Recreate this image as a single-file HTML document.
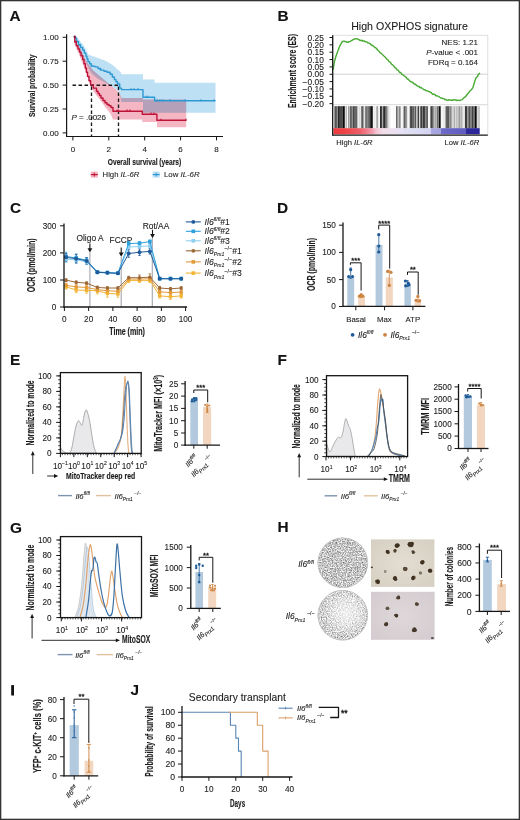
<!DOCTYPE html>
<html><head><meta charset="utf-8"><style>
html,body{margin:0;padding:0;background:#fff;width:520px;height:820px;overflow:hidden}
svg{display:block;filter:blur(0.3px);font-family:"Liberation Sans", sans-serif}
</style></head><body>
<svg width="520" height="820" viewBox="0 0 520 820" font-family='"Liberation Sans", sans-serif'>
<rect x="0" y="0" width="520" height="820" fill="#fff"/>
<text x="9.4" y="20.6" font-size="15.4" text-anchor="start" fill="#111" font-weight="bold" font-style="normal" stroke="#111" stroke-width="0.1" >A</text>
<polygon points="74.5,36.5 76.3,36.2 80,41 83.8,45.8 86,50 88,54.2 92,56 96.5,57.4 100.7,59 104.9,60.6 108.6,62.5 112.3,64.8 116.5,68.5 120.8,72.2 121.5,74.2 143,74.2 143,79.6 154.6,79.6 154.6,82.7 215.5,82.7 215.5,112.7 143,112.7 143,101.9 121.5,101.9 119.8,93 116.6,89.5 110.2,85.5 103.9,82 97.5,78.5 91.2,73 86.9,64.5 83.5,58.5 80.6,53.2 77.5,46 74.8,39.4" fill="#bde0f4" />
<polygon points="74.5,38 74.8,40.5 77.5,44.5 80.6,48.9 84.8,58.5 89,65 93.3,70.5 97.5,74 103.9,79.5 110.2,85 116.6,90 120,94 121.5,98 143,98 143,99.6 186.2,99.6 186.2,127.3 157,127.3 157,122 142.3,122 142.3,119.6 113,119.6 110.4,113.4 106,108 101,101.3 97,96 94,92 91.2,88.1 89,81.7 86.9,74.3 82.7,63.7 78.5,53.2 74.2,43.6" fill="#f3b6c2" style="mix-blend-mode:multiply"/>
<line x1="72.5" y1="85.2" x2="118.5" y2="85.2" stroke="#1a1a1a" stroke-width="1.35" stroke-dasharray="3.6,2.4"/>
<line x1="91.5" y1="86.4" x2="91.5" y2="136.5" stroke="#1a1a1a" stroke-width="1.35" stroke-dasharray="3.6,2.4"/>
<line x1="118.5" y1="86.4" x2="118.5" y2="136.5" stroke="#1a1a1a" stroke-width="1.35" stroke-dasharray="3.6,2.4"/>
<polyline points="74.6,37 74.8,37 74.8,38.3 76.5,38.3 76.5,41.5 78.5,41.5 78.5,44.7 80.5,44.7 80.5,47.5 82.7,47.5 82.7,50 84.3,50 84.3,53 85.9,53 85.9,56.3 87,56.3 87,59 88,59 88,61.6 89.6,61.6 89.6,63.8 91.2,63.8 91.2,65.9 93.3,65.9 93.3,66.4 95.4,66.4 95.4,66.9 98,66.9 98,68.5 100.7,68.5 100.7,70.1 104,70.1 104,71.2 107,71.2 107,72.2 110.2,72.2 110.2,74.3 112.3,74.3 112.3,77 114.4,77 114.4,79.6 116,79.6 116,81.8 117.6,81.8 117.6,83.9 119.7,83.9 119.7,88.1 121.5,88.1 121.5,89.6 143,89.6 143,97.3 154.6,97.3 154.6,100.8 215.5,100.8" fill="none" stroke="#2e98d3" stroke-width="1.4" stroke-linejoin="round" stroke-linejoin="miter"/>
<polyline points="74.6,37 74.8,37 74.8,41.5 76.3,41.5 76.3,45.8 78,45.8 78,49 79.5,49 79.5,52.1 81,52.1 81,55.8 82.7,55.8 82.7,59.5 84,59.5 84,63.7 85.3,63.7 85.3,68 86.4,68 86.4,72.2 87.5,72.2 87.5,76.4 89,76.4 89,80.7 90.6,80.7 90.6,84.9 93.3,84.9 93.3,88.1 96.5,88.1 96.5,91.3 98,91.3 98,93.5 99.5,93.5 99.5,95.5 101,95.5 101,98 103,98 103,100.5 105,100.5 105,102.7 107,102.7 107,104.5 109,104.5 109,105.8 111,105.8 111,107.5 113,107.5 113,111.2 142.3,111.2 142.3,114.2 156.9,114.2 156.9,120.3 186.2,120.3" fill="none" stroke="#be1238" stroke-width="1.4" stroke-linejoin="round" stroke-linejoin="miter"/>
<line x1="131" y1="88" x2="131" y2="90" stroke="#2e98d3" stroke-width="1" />
<line x1="134" y1="88" x2="134" y2="90" stroke="#2e98d3" stroke-width="1" />
<line x1="138" y1="88" x2="138" y2="90" stroke="#2e98d3" stroke-width="1" />
<line x1="146" y1="95.7" x2="146" y2="97.7" stroke="#2e98d3" stroke-width="1" />
<line x1="148" y1="95.7" x2="148" y2="97.7" stroke="#2e98d3" stroke-width="1" />
<line x1="157" y1="99.2" x2="157" y2="101.2" stroke="#2e98d3" stroke-width="1" />
<line x1="160" y1="99.2" x2="160" y2="101.2" stroke="#2e98d3" stroke-width="1" />
<line x1="163" y1="99.2" x2="163" y2="101.2" stroke="#2e98d3" stroke-width="1" />
<line x1="170" y1="99.2" x2="170" y2="101.2" stroke="#2e98d3" stroke-width="1" />
<line x1="185" y1="99.2" x2="185" y2="101.2" stroke="#2e98d3" stroke-width="1" />
<line x1="201" y1="99.2" x2="201" y2="101.2" stroke="#2e98d3" stroke-width="1" />
<line x1="214" y1="99.2" x2="214" y2="101.2" stroke="#2e98d3" stroke-width="1" />
<line x1="80" y1="43.9" x2="80" y2="45.9" stroke="#2e98d3" stroke-width="1" />
<line x1="92" y1="64.9" x2="92" y2="66.9" stroke="#2e98d3" stroke-width="1" />
<line x1="100" y1="68.4" x2="100" y2="70.4" stroke="#2e98d3" stroke-width="1" />
<line x1="117" y1="109.6" x2="117" y2="111.6" stroke="#be1238" stroke-width="1.1" />
<line x1="118.5" y1="109.6" x2="118.5" y2="111.6" stroke="#be1238" stroke-width="1.1" />
<line x1="127" y1="109.6" x2="127" y2="111.6" stroke="#be1238" stroke-width="1.1" />
<line x1="130" y1="109.6" x2="130" y2="111.6" stroke="#be1238" stroke-width="1.1" />
<line x1="151" y1="112.6" x2="151" y2="114.6" stroke="#be1238" stroke-width="1.1" />
<line x1="154" y1="112.6" x2="154" y2="114.6" stroke="#be1238" stroke-width="1.1" />
<line x1="161" y1="118.7" x2="161" y2="120.7" stroke="#be1238" stroke-width="1.1" />
<line x1="186" y1="118.7" x2="186" y2="120.7" stroke="#be1238" stroke-width="1.1" />
<line x1="75" y1="40.9" x2="75" y2="42.9" stroke="#be1238" stroke-width="1.1" />
<circle cx="74.7" cy="36.8" r="1.2" fill="#7a1a40" />
<line x1="66.6" y1="34.2" x2="66.6" y2="137.1" stroke="#161616" stroke-width="1.2" />
<line x1="66" y1="136.5" x2="223" y2="136.5" stroke="#161616" stroke-width="1.2" />
<line x1="62.6" y1="37.3" x2="66.6" y2="37.3" stroke="#161616" stroke-width="1" />
<text x="58.6" y="40.2" font-size="8" text-anchor="end" fill="#222" font-weight="normal" font-style="normal" stroke="#222" stroke-width="0.1" >1.00</text>
<line x1="62.6" y1="61.2" x2="66.6" y2="61.2" stroke="#161616" stroke-width="1" />
<text x="58.6" y="64.1" font-size="8" text-anchor="end" fill="#222" font-weight="normal" font-style="normal" stroke="#222" stroke-width="0.1" >0.75</text>
<line x1="62.6" y1="85.1" x2="66.6" y2="85.1" stroke="#161616" stroke-width="1" />
<text x="58.6" y="88" font-size="8" text-anchor="end" fill="#222" font-weight="normal" font-style="normal" stroke="#222" stroke-width="0.1" >0.50</text>
<line x1="62.6" y1="109" x2="66.6" y2="109" stroke="#161616" stroke-width="1" />
<text x="58.6" y="111.9" font-size="8" text-anchor="end" fill="#222" font-weight="normal" font-style="normal" stroke="#222" stroke-width="0.1" >0.25</text>
<line x1="62.6" y1="132.9" x2="66.6" y2="132.9" stroke="#161616" stroke-width="1" />
<text x="58.6" y="135.8" font-size="8" text-anchor="end" fill="#222" font-weight="normal" font-style="normal" stroke="#222" stroke-width="0.1" >0.00</text>
<line x1="72.9" y1="136.5" x2="72.9" y2="140.4" stroke="#161616" stroke-width="1" />
<text x="72.9" y="151.9" font-size="8" text-anchor="middle" fill="#222" font-weight="normal" font-style="normal" stroke="#222" stroke-width="0.1" >0</text>
<line x1="108.8" y1="136.5" x2="108.8" y2="140.4" stroke="#161616" stroke-width="1" />
<text x="108.8" y="151.9" font-size="8" text-anchor="middle" fill="#222" font-weight="normal" font-style="normal" stroke="#222" stroke-width="0.1" >2</text>
<line x1="144.7" y1="136.5" x2="144.7" y2="140.4" stroke="#161616" stroke-width="1" />
<text x="144.7" y="151.9" font-size="8" text-anchor="middle" fill="#222" font-weight="normal" font-style="normal" stroke="#222" stroke-width="0.1" >4</text>
<line x1="180.6" y1="136.5" x2="180.6" y2="140.4" stroke="#161616" stroke-width="1" />
<text x="180.6" y="151.9" font-size="8" text-anchor="middle" fill="#222" font-weight="normal" font-style="normal" stroke="#222" stroke-width="0.1" >6</text>
<line x1="216.5" y1="136.5" x2="216.5" y2="140.4" stroke="#161616" stroke-width="1" />
<text x="216.5" y="151.9" font-size="8" text-anchor="middle" fill="#222" font-weight="normal" font-style="normal" stroke="#222" stroke-width="0.1" >8</text>
<text x="144.5" y="164.7" font-size="9.8" text-anchor="middle" fill="#1c1c1c" font-weight="bold" font-style="normal" textLength="73.5" lengthAdjust="spacingAndGlyphs" stroke="#1c1c1c" stroke-width="0.15" >Overall survival (years)</text>
<text x="35.4" y="85.7" font-size="9.8" text-anchor="middle" fill="#1c1c1c" font-weight="bold" font-style="normal" textLength="62.5" lengthAdjust="spacingAndGlyphs" transform="rotate(-90 35.4 85.7)" stroke="#1c1c1c" stroke-width="0.15" >Survival probability</text>
<text x="71.5" y="120" font-size="8" text-anchor="start" fill="#222" font-weight="normal" font-style="normal" stroke="#222" stroke-width="0.1" ><tspan font-style="italic">P</tspan> = .0026</text>
<rect x="90.8" y="171.6" width="7" height="6" fill="#f3b6c2" />
<line x1="90.8" y1="174.6" x2="97.8" y2="174.6" stroke="#be1238" stroke-width="1.2" />
<line x1="94.3" y1="172.6" x2="94.3" y2="176.6" stroke="#be1238" stroke-width="1" />
<text x="102.6" y="177.4" font-size="7.7" text-anchor="start" fill="#222" font-weight="normal" font-style="normal" stroke="#222" stroke-width="0.1" >High <tspan font-style="italic">IL-6R</tspan></text>
<rect x="152.7" y="171.6" width="7" height="6" fill="#bde0f4" />
<line x1="152.7" y1="174.6" x2="159.7" y2="174.6" stroke="#2e98d3" stroke-width="1.2" />
<line x1="156.2" y1="172.6" x2="156.2" y2="176.6" stroke="#2e98d3" stroke-width="1" />
<text x="164" y="177.4" font-size="7.8" text-anchor="start" fill="#222" font-weight="normal" font-style="normal" stroke="#222" stroke-width="0.1" >Low <tspan font-style="italic">IL-6R</tspan></text>
<text x="277.4" y="20.6" font-size="15.4" text-anchor="start" fill="#111" font-weight="bold" font-style="normal" stroke="#111" stroke-width="0.1" >B</text>
<text x="409.5" y="30" font-size="10.6" text-anchor="middle" fill="#1c1c1c" font-weight="normal" font-style="normal" stroke="#1c1c1c" stroke-width="0.1" >High OXPHOS signature</text>
<rect x="332.7" y="35.3" width="155.1" height="69.2" fill="none" stroke="#d8d8d8" stroke-width="0.8"/>
<line x1="332.7" y1="104.9" x2="487.8" y2="104.9" stroke="#e0e0e0" stroke-width="0.6" />
<line x1="487.8" y1="104.5" x2="487.8" y2="135.2" stroke="#d8d8d8" stroke-width="0.8" />
<line x1="332.7" y1="74.2" x2="487.8" y2="74.2" stroke="#c8c8c8" stroke-width="0.8" />
<polyline points="333,70 334.6,60.8 336,56 337.7,51.61 339,47.72 339.9,45.92 340.8,44.2 342.3,41.72 343.8,41.18 345.5,41.58 347,42.27 348,42.3 349,41.63 350.25,41.51 351.5,40.45 352.5,40.12 353.5,39.27 354.75,39.09 356,38.67 357,38.61 358,39.25 358.93,39.57 359.87,40.41 360.8,40.54 361.87,40.29 362.93,41.17 364,40.87 365,41.67 366,41.6 367,41.85 368,43.13 369,43.04 370,43.54 371,44.73 371.9,45.29 372.8,45.41 373.7,46.67 374.6,46.94 375.58,47.96 376.55,48.43 377.52,50 378.5,50.67 379.45,51.94 380.4,52.9 381.35,53.39 382.3,54.48 383.24,55.24 384.18,56.16 385.12,57.03 386.06,58.18 387,59.39 387.9,59.75 388.8,61.26 389.7,61.85 390.6,62.73 391.5,64.09 392.4,64.72 393.3,65.51 394.2,66.6 395.1,67.74 396,68.1 396.96,69.83 397.92,69.87 398.88,71.42 399.84,72.41 400.8,72.57 401.74,74.1 402.68,74.56 403.62,75.59 404.56,75.92 405.5,76.79 406.4,77.63 407.3,79.05 408.2,79.09 409.1,80.31 410,81.19 410.92,81.84 411.84,81.94 412.76,82.59 413.68,83.38 414.6,84.25 415.52,84.23 416.44,85.38 417.36,86.01 418.28,86.64 419.2,86.48 420.16,87.8 421.12,87.53 422.08,88.26 423.04,89 424,89.78 424.9,89.68 425.8,90.62 426.7,90.7 427.6,90.91 428.5,91.34 429.4,91.71 430.3,92.12 431.2,92.68 432.1,93.67 433,94.45 433.94,94.14 434.88,94.47 435.82,95.76 436.76,95.79 437.7,96.12 438.77,96.46 439.85,97.28 440.93,97.99 442,98.16 443,98.53 444,98.6 445,99.77 446,99.38 447,100.19 448,100.4 449,99.67 450,100.11 451,100.2 452,100 453,100.22 454,99.69 455,100.06 456,99.88 457,100.58 458,100.15 459,100.36 460.1,100.45 461.2,99.92 462.3,99.63 463.37,98.26 464.43,97.39 465.5,96.71 466.5,95.31 467.5,93.98 468.5,92.91 469.75,91.28 471,90.09 472,88.99 473,87.31 474.5,82.11 476,77.7 477.5,76.5 478.3,74.6 480,73" fill="none" stroke="#4aac36" stroke-width="1.45" stroke-linejoin="round" />
<g><rect x="334" y="106.2" width="0.55" height="22.2" fill="rgb(137,137,137)"/><rect x="334.5" y="106.2" width="0.75" height="22.2" fill="rgb(110,110,110)"/><rect x="335.2" y="106.2" width="0.35" height="22.2" fill="rgb(83,83,83)"/><rect x="335.5" y="106.2" width="0.75" height="22.2" fill="rgb(0,0,0)"/><rect x="336.2" y="106.2" width="0.85" height="22.2" fill="rgb(78,78,78)"/><rect x="337" y="106.2" width="0.95" height="22.2" fill="rgb(135,135,135)"/><rect x="337.9" y="106.2" width="0.15" height="22.2" fill="rgb(163,163,163)"/><rect x="338" y="106.2" width="0.95" height="22.2" fill="rgb(34,34,34)"/><rect x="338.9" y="106.2" width="0.55" height="22.2" fill="rgb(0,0,0)"/><rect x="339.4" y="106.2" width="0.55" height="22.2" fill="rgb(0,0,0)"/><rect x="339.9" y="106.2" width="0.15" height="22.2" fill="rgb(83,83,83)"/><rect x="340" y="106.2" width="0.95" height="22.2" fill="rgb(67,67,67)"/><rect x="340.9" y="106.2" width="0.15" height="22.2" fill="rgb(87,87,87)"/><rect x="341" y="106.2" width="0.55" height="22.2" fill="rgb(0,0,0)"/><rect x="341.5" y="106.2" width="0.95" height="22.2" fill="rgb(38,38,38)"/><rect x="342.4" y="106.2" width="0.55" height="22.2" fill="rgb(19,19,19)"/><rect x="342.9" y="106.2" width="0.15" height="22.2" fill="rgb(99,99,99)"/><rect x="343" y="106.2" width="0.95" height="22.2" fill="rgb(0,0,0)"/><rect x="343.9" y="106.2" width="0.55" height="22.2" fill="rgb(0,0,0)"/><rect x="344.4" y="106.2" width="0.55" height="22.2" fill="rgb(18,18,18)"/><rect x="344.9" y="106.2" width="0.15" height="22.2" fill="rgb(0,0,0)"/><rect x="345" y="106.2" width="0.75" height="22.2" fill="rgb(218,218,218)"/><rect x="345.7" y="106.2" width="0.55" height="22.2" fill="rgb(195,195,195)"/><rect x="346.2" y="106.2" width="0.75" height="22.2" fill="rgb(170,170,170)"/><rect x="347.9" y="106.2" width="0.65" height="22.2" fill="rgb(184,184,184)"/><rect x="348.5" y="106.2" width="0.95" height="22.2" fill="rgb(90,90,90)"/><rect x="349.4" y="106.2" width="0.55" height="22.2" fill="rgb(201,201,201)"/><rect x="349.9" y="106.2" width="0.15" height="22.2" fill="rgb(145,145,145)"/><rect x="350" y="106.2" width="0.75" height="22.2" fill="rgb(101,101,101)"/><rect x="350.7" y="106.2" width="0.55" height="22.2" fill="rgb(14,14,14)"/><rect x="351.2" y="106.2" width="0.75" height="22.2" fill="rgb(90,90,90)"/><rect x="351.9" y="106.2" width="0.15" height="22.2" fill="rgb(63,63,63)"/><rect x="352" y="106.2" width="0.75" height="22.2" fill="rgb(89,89,89)"/><rect x="352.7" y="106.2" width="0.35" height="22.2" fill="rgb(182,182,182)"/><rect x="353" y="106.2" width="0.55" height="22.2" fill="rgb(56,56,56)"/><rect x="353.5" y="106.2" width="0.95" height="22.2" fill="rgb(0,0,0)"/><rect x="354.4" y="106.2" width="0.75" height="22.2" fill="rgb(76,76,76)"/><rect x="355.1" y="106.2" width="0.35" height="22.2" fill="rgb(6,6,6)"/><rect x="355.4" y="106.2" width="0.95" height="22.2" fill="rgb(73,73,73)"/><rect x="356.3" y="106.2" width="0.95" height="22.2" fill="rgb(62,62,62)"/><rect x="357.2" y="106.2" width="0.35" height="22.2" fill="rgb(15,15,15)"/><rect x="357.5" y="106.2" width="0.55" height="22.2" fill="rgb(241,241,241)"/><rect x="358" y="106.2" width="0.55" height="22.2" fill="rgb(224,224,224)"/><rect x="358.5" y="106.2" width="0.75" height="22.2" fill="rgb(235,235,235)"/><rect x="359.2" y="106.2" width="0.95" height="22.2" fill="rgb(213,213,213)"/><rect x="360.1" y="106.2" width="0.55" height="22.2" fill="rgb(244,244,244)"/><rect x="360.6" y="106.2" width="0.45" height="22.2" fill="rgb(213,213,213)"/><rect x="361" y="106.2" width="0.55" height="22.2" fill="rgb(41,41,41)"/><rect x="361.5" y="106.2" width="0.75" height="22.2" fill="rgb(119,119,119)"/><rect x="362.2" y="106.2" width="0.55" height="22.2" fill="rgb(54,54,54)"/><rect x="362.7" y="106.2" width="0.35" height="22.2" fill="rgb(18,18,18)"/><rect x="363" y="106.2" width="0.75" height="22.2" fill="rgb(150,150,150)"/><rect x="363.7" y="106.2" width="0.55" height="22.2" fill="rgb(145,145,145)"/><rect x="365.1" y="106.2" width="0.45" height="22.2" fill="rgb(205,205,205)"/><rect x="365.5" y="106.2" width="0.75" height="22.2" fill="rgb(29,29,29)"/><rect x="366.2" y="106.2" width="0.55" height="22.2" fill="rgb(94,94,94)"/><rect x="366.7" y="106.2" width="0.35" height="22.2" fill="rgb(58,58,58)"/><rect x="367" y="106.2" width="0.75" height="22.2" fill="rgb(79,79,79)"/><rect x="367.7" y="106.2" width="0.75" height="22.2" fill="rgb(171,171,171)"/><rect x="368.4" y="106.2" width="0.15" height="22.2" fill="rgb(171,171,171)"/><rect x="368.5" y="106.2" width="0.75" height="22.2" fill="rgb(18,18,18)"/><rect x="369.2" y="106.2" width="0.55" height="22.2" fill="rgb(48,48,48)"/><rect x="369.7" y="106.2" width="0.55" height="22.2" fill="rgb(51,51,51)"/><rect x="370.2" y="106.2" width="0.75" height="22.2" fill="rgb(19,19,19)"/><rect x="370.9" y="106.2" width="0.15" height="22.2" fill="rgb(0,0,0)"/><rect x="371" y="106.2" width="0.95" height="22.2" fill="rgb(0,0,0)"/><rect x="371.9" y="106.2" width="0.55" height="22.2" fill="rgb(44,44,44)"/><rect x="372.4" y="106.2" width="0.65" height="22.2" fill="rgb(9,9,9)"/><rect x="373" y="106.2" width="0.95" height="22.2" fill="rgb(243,243,243)"/><rect x="373.9" y="106.2" width="0.55" height="22.2" fill="rgb(226,226,226)"/><rect x="374.4" y="106.2" width="0.75" height="22.2" fill="rgb(230,230,230)"/><rect x="375.1" y="106.2" width="0.75" height="22.2" fill="rgb(238,238,238)"/><rect x="375.8" y="106.2" width="0.25" height="22.2" fill="rgb(242,242,242)"/><rect x="376" y="106.2" width="0.75" height="22.2" fill="rgb(190,190,190)"/><rect x="376.7" y="106.2" width="0.95" height="22.2" fill="rgb(154,154,154)"/><rect x="377.6" y="106.2" width="0.45" height="22.2" fill="rgb(131,131,131)"/><rect x="378" y="106.2" width="0.55" height="22.2" fill="rgb(246,246,246)"/><rect x="378.5" y="106.2" width="0.55" height="22.2" fill="rgb(224,224,224)"/><rect x="379.5" y="106.2" width="0.55" height="22.2" fill="rgb(236,236,236)"/><rect x="380" y="106.2" width="0.95" height="22.2" fill="rgb(35,35,35)"/><rect x="380.9" y="106.2" width="0.95" height="22.2" fill="rgb(37,37,37)"/><rect x="381.8" y="106.2" width="0.25" height="22.2" fill="rgb(72,72,72)"/><rect x="382" y="106.2" width="0.55" height="22.2" fill="rgb(115,115,115)"/><rect x="382.5" y="106.2" width="0.55" height="22.2" fill="rgb(162,162,162)"/><rect x="383" y="106.2" width="0.55" height="22.2" fill="rgb(65,65,65)"/><rect x="383.5" y="106.2" width="0.55" height="22.2" fill="rgb(0,0,0)"/><rect x="384" y="106.2" width="0.95" height="22.2" fill="rgb(40,40,40)"/><rect x="384.9" y="106.2" width="0.65" height="22.2" fill="rgb(7,7,7)"/><rect x="385.5" y="106.2" width="0.75" height="22.2" fill="rgb(89,89,89)"/><rect x="386.2" y="106.2" width="0.55" height="22.2" fill="rgb(61,61,61)"/><rect x="386.7" y="106.2" width="0.35" height="22.2" fill="rgb(116,116,116)"/><rect x="387" y="106.2" width="0.75" height="22.2" fill="rgb(178,178,178)"/><rect x="387.7" y="106.2" width="0.85" height="22.2" fill="rgb(133,133,133)"/><rect x="388.5" y="106.2" width="0.55" height="22.2" fill="rgb(245,245,245)"/><rect x="389" y="106.2" width="0.95" height="22.2" fill="rgb(235,235,235)"/><rect x="389.9" y="106.2" width="0.55" height="22.2" fill="rgb(238,238,238)"/><rect x="393.2" y="106.2" width="0.95" height="22.2" fill="rgb(245,245,245)"/><rect x="395.7" y="106.2" width="0.35" height="22.2" fill="rgb(234,234,234)"/><rect x="396" y="106.2" width="0.75" height="22.2" fill="rgb(61,61,61)"/><rect x="396.7" y="106.2" width="0.95" height="22.2" fill="rgb(103,103,103)"/><rect x="397.6" y="106.2" width="0.45" height="22.2" fill="rgb(153,153,153)"/><rect x="398" y="106.2" width="0.95" height="22.2" fill="rgb(196,196,196)"/><rect x="398.9" y="106.2" width="0.95" height="22.2" fill="rgb(110,110,110)"/><rect x="399.8" y="106.2" width="0.95" height="22.2" fill="rgb(164,164,164)"/><rect x="400.7" y="106.2" width="0.15" height="22.2" fill="rgb(124,124,124)"/><rect x="401.7" y="106.2" width="0.95" height="22.2" fill="rgb(230,230,230)"/><rect x="402.6" y="106.2" width="0.55" height="22.2" fill="rgb(247,247,247)"/><rect x="403.1" y="106.2" width="0.45" height="22.2" fill="rgb(236,236,236)"/><rect x="403.5" y="106.2" width="0.75" height="22.2" fill="rgb(113,113,113)"/><rect x="404.2" y="106.2" width="0.55" height="22.2" fill="rgb(44,44,44)"/><rect x="404.7" y="106.2" width="0.35" height="22.2" fill="rgb(23,23,23)"/><rect x="405" y="106.2" width="0.75" height="22.2" fill="rgb(126,126,126)"/><rect x="405.7" y="106.2" width="0.55" height="22.2" fill="rgb(104,104,104)"/><rect x="406.2" y="106.2" width="0.85" height="22.2" fill="rgb(134,134,134)"/><rect x="407" y="106.2" width="0.95" height="22.2" fill="rgb(229,229,229)"/><rect x="407.9" y="106.2" width="0.75" height="22.2" fill="rgb(245,245,245)"/><rect x="408.6" y="106.2" width="0.55" height="22.2" fill="rgb(246,246,246)"/><rect x="409.1" y="106.2" width="0.45" height="22.2" fill="rgb(247,247,247)"/><rect x="409.5" y="106.2" width="0.75" height="22.2" fill="rgb(152,152,152)"/><rect x="410.2" y="106.2" width="0.25" height="22.2" fill="rgb(149,149,149)"/><rect x="410.4" y="106.2" width="0.75" height="22.2" fill="rgb(0,0,0)"/><rect x="411.1" y="106.2" width="0.75" height="22.2" fill="rgb(27,27,27)"/><rect x="411.8" y="106.2" width="0.25" height="22.2" fill="rgb(47,47,47)"/><rect x="412" y="106.2" width="0.95" height="22.2" fill="rgb(103,103,103)"/><rect x="412.9" y="106.2" width="0.75" height="22.2" fill="rgb(92,92,92)"/><rect x="413.6" y="106.2" width="0.65" height="22.2" fill="rgb(23,23,23)"/><rect x="414.2" y="106.2" width="0.55" height="22.2" fill="rgb(117,117,117)"/><rect x="414.7" y="106.2" width="0.35" height="22.2" fill="rgb(136,136,136)"/><rect x="415" y="106.2" width="0.95" height="22.2" fill="rgb(80,80,80)"/><rect x="415.9" y="106.2" width="0.65" height="22.2" fill="rgb(76,76,76)"/><rect x="416.5" y="106.2" width="0.95" height="22.2" fill="rgb(234,234,234)"/><rect x="417.4" y="106.2" width="0.15" height="22.2" fill="rgb(150,150,150)"/><rect x="417.5" y="106.2" width="0.75" height="22.2" fill="rgb(88,88,88)"/><rect x="418.2" y="106.2" width="0.75" height="22.2" fill="rgb(22,22,22)"/><rect x="418.9" y="106.2" width="0.15" height="22.2" fill="rgb(1,1,1)"/><rect x="419" y="106.2" width="0.55" height="22.2" fill="rgb(221,221,221)"/><rect x="419.5" y="106.2" width="0.55" height="22.2" fill="rgb(202,202,202)"/><rect x="420" y="106.2" width="0.45" height="22.2" fill="rgb(150,150,150)"/><rect x="420.4" y="106.2" width="0.55" height="22.2" fill="rgb(44,44,44)"/><rect x="420.9" y="106.2" width="0.55" height="22.2" fill="rgb(48,48,48)"/><rect x="421.4" y="106.2" width="0.65" height="22.2" fill="rgb(0,0,0)"/><rect x="422" y="106.2" width="0.95" height="22.2" fill="rgb(122,122,122)"/><rect x="422.9" y="106.2" width="0.15" height="22.2" fill="rgb(90,90,90)"/><rect x="423" y="106.2" width="0.55" height="22.2" fill="rgb(0,0,0)"/><rect x="423.5" y="106.2" width="0.55" height="22.2" fill="rgb(2,2,2)"/><rect x="424" y="106.2" width="0.75" height="22.2" fill="rgb(7,7,7)"/><rect x="424.7" y="106.2" width="0.35" height="22.2" fill="rgb(65,65,65)"/><rect x="425" y="106.2" width="0.55" height="22.2" fill="rgb(69,69,69)"/><rect x="425.5" y="106.2" width="0.55" height="22.2" fill="rgb(125,125,125)"/><rect x="426" y="106.2" width="0.55" height="22.2" fill="rgb(12,12,12)"/><rect x="426.5" y="106.2" width="0.95" height="22.2" fill="rgb(102,102,102)"/><rect x="427.4" y="106.2" width="0.65" height="22.2" fill="rgb(39,39,39)"/><rect x="428" y="106.2" width="0.95" height="22.2" fill="rgb(246,246,246)"/><rect x="428.9" y="106.2" width="0.75" height="22.2" fill="rgb(243,243,243)"/><rect x="429.6" y="106.2" width="0.75" height="22.2" fill="rgb(243,243,243)"/><rect x="430.5" y="106.2" width="0.55" height="22.2" fill="rgb(16,16,16)"/><rect x="431" y="106.2" width="0.95" height="22.2" fill="rgb(67,67,67)"/><rect x="431.9" y="106.2" width="0.55" height="22.2" fill="rgb(0,0,0)"/><rect x="432.4" y="106.2" width="0.55" height="22.2" fill="rgb(97,97,97)"/><rect x="432.9" y="106.2" width="0.65" height="22.2" fill="rgb(0,0,0)"/><rect x="433.5" y="106.2" width="0.95" height="22.2" fill="rgb(182,182,182)"/><rect x="434.4" y="106.2" width="0.55" height="22.2" fill="rgb(165,165,165)"/><rect x="434.9" y="106.2" width="0.55" height="22.2" fill="rgb(178,178,178)"/><rect x="435.4" y="106.2" width="0.75" height="22.2" fill="rgb(140,140,140)"/><rect x="436.1" y="106.2" width="0.55" height="22.2" fill="rgb(103,103,103)"/><rect x="436.6" y="106.2" width="0.45" height="22.2" fill="rgb(210,210,210)"/><rect x="437" y="106.2" width="0.75" height="22.2" fill="rgb(115,115,115)"/><rect x="437.7" y="106.2" width="0.75" height="22.2" fill="rgb(26,26,26)"/><rect x="438.4" y="106.2" width="0.65" height="22.2" fill="rgb(119,119,119)"/><rect x="439" y="106.2" width="0.95" height="22.2" fill="rgb(1,1,1)"/><rect x="439.9" y="106.2" width="0.75" height="22.2" fill="rgb(34,34,34)"/><rect x="440.6" y="106.2" width="0.45" height="22.2" fill="rgb(62,62,62)"/><rect x="441" y="106.2" width="0.75" height="22.2" fill="rgb(245,245,245)"/><rect x="442.6" y="106.2" width="0.95" height="22.2" fill="rgb(230,230,230)"/><rect x="443.5" y="106.2" width="0.95" height="22.2" fill="rgb(225,225,225)"/><rect x="444.4" y="106.2" width="0.55" height="22.2" fill="rgb(236,236,236)"/><rect x="445.4" y="106.2" width="0.15" height="22.2" fill="rgb(223,223,223)"/><rect x="445.5" y="106.2" width="0.95" height="22.2" fill="rgb(90,90,90)"/><rect x="446.4" y="106.2" width="0.55" height="22.2" fill="rgb(51,51,51)"/><rect x="446.9" y="106.2" width="0.15" height="22.2" fill="rgb(37,37,37)"/><rect x="447" y="106.2" width="0.95" height="22.2" fill="rgb(90,90,90)"/><rect x="447.9" y="106.2" width="0.95" height="22.2" fill="rgb(50,50,50)"/><rect x="448.8" y="106.2" width="0.75" height="22.2" fill="rgb(133,133,133)"/><rect x="449.5" y="106.2" width="0.15" height="22.2" fill="rgb(107,107,107)"/><rect x="449.6" y="106.2" width="0.75" height="22.2" fill="rgb(122,122,122)"/><rect x="450.3" y="106.2" width="0.55" height="22.2" fill="rgb(90,90,90)"/><rect x="450.8" y="106.2" width="0.55" height="22.2" fill="rgb(118,118,118)"/><rect x="451.3" y="106.2" width="0.25" height="22.2" fill="rgb(138,138,138)"/><rect x="451.5" y="106.2" width="0.95" height="22.2" fill="rgb(149,149,149)"/><rect x="452.4" y="106.2" width="0.65" height="22.2" fill="rgb(220,220,220)"/><rect x="453" y="106.2" width="0.55" height="22.2" fill="rgb(221,221,221)"/><rect x="453.5" y="106.2" width="0.95" height="22.2" fill="rgb(179,179,179)"/><rect x="454.4" y="106.2" width="0.95" height="22.2" fill="rgb(141,141,141)"/><rect x="455.3" y="106.2" width="0.75" height="22.2" fill="rgb(222,222,222)"/><rect x="456" y="106.2" width="0.55" height="22.2" fill="rgb(199,199,199)"/><rect x="456.5" y="106.2" width="0.75" height="22.2" fill="rgb(160,160,160)"/><rect x="457.2" y="106.2" width="0.75" height="22.2" fill="rgb(204,204,204)"/><rect x="457.9" y="106.2" width="0.55" height="22.2" fill="rgb(136,136,136)"/><rect x="458.4" y="106.2" width="0.95" height="22.2" fill="rgb(175,175,175)"/><rect x="459.3" y="106.2" width="0.75" height="22.2" fill="rgb(124,124,124)"/><rect x="460" y="106.2" width="0.55" height="22.2" fill="rgb(165,165,165)"/><rect x="460.5" y="106.2" width="0.95" height="22.2" fill="rgb(184,184,184)"/><rect x="461.4" y="106.2" width="0.95" height="22.2" fill="rgb(148,148,148)"/><rect x="462.3" y="106.2" width="0.95" height="22.2" fill="rgb(207,207,207)"/><rect x="463.2" y="106.2" width="0.35" height="22.2" fill="rgb(182,182,182)"/><rect x="463.5" y="106.2" width="0.75" height="22.2" fill="rgb(242,242,242)"/><rect x="464.2" y="106.2" width="0.75" height="22.2" fill="rgb(217,217,217)"/><rect x="464.9" y="106.2" width="0.15" height="22.2" fill="rgb(222,222,222)"/><rect x="465" y="106.2" width="0.55" height="22.2" fill="rgb(2,2,2)"/><rect x="465.5" y="106.2" width="0.95" height="22.2" fill="rgb(0,0,0)"/><rect x="466.4" y="106.2" width="0.65" height="22.2" fill="rgb(12,12,12)"/><rect x="467" y="106.2" width="0.55" height="22.2" fill="rgb(67,67,67)"/><rect x="467.5" y="106.2" width="0.75" height="22.2" fill="rgb(164,164,164)"/><rect x="468.2" y="106.2" width="0.35" height="22.2" fill="rgb(71,71,71)"/><rect x="468.5" y="106.2" width="0.75" height="22.2" fill="rgb(75,75,75)"/><rect x="469.2" y="106.2" width="0.75" height="22.2" fill="rgb(54,54,54)"/><rect x="469.9" y="106.2" width="0.15" height="22.2" fill="rgb(0,0,0)"/><rect x="470" y="106.2" width="0.75" height="22.2" fill="rgb(83,83,83)"/><rect x="470.7" y="106.2" width="0.55" height="22.2" fill="rgb(142,142,142)"/><rect x="471.2" y="106.2" width="0.35" height="22.2" fill="rgb(101,101,101)"/><rect x="471.5" y="106.2" width="0.75" height="22.2" fill="rgb(75,75,75)"/><rect x="472.2" y="106.2" width="0.85" height="22.2" fill="rgb(31,31,31)"/><rect x="473" y="106.2" width="0.75" height="22.2" fill="rgb(96,96,96)"/><rect x="473.7" y="106.2" width="0.75" height="22.2" fill="rgb(75,75,75)"/><rect x="474.4" y="106.2" width="0.15" height="22.2" fill="rgb(139,139,139)"/><rect x="474.5" y="106.2" width="0.55" height="22.2" fill="rgb(44,44,44)"/><rect x="475" y="106.2" width="0.95" height="22.2" fill="rgb(0,0,0)"/><rect x="475.9" y="106.2" width="0.15" height="22.2" fill="rgb(16,16,16)"/><rect x="476" y="106.2" width="0.55" height="22.2" fill="rgb(24,24,24)"/><rect x="476.5" y="106.2" width="0.85" height="22.2" fill="rgb(43,43,43)"/><rect x="477.3" y="106.2" width="0.95" height="22.2" fill="rgb(233,233,233)"/><rect x="478.5" y="106.2" width="0.95" height="22.2" fill="rgb(150,150,150)"/><rect x="479.4" y="106.2" width="0.15" height="22.2" fill="rgb(178,178,178)"/></g>
<defs><linearGradient id="gsea" x1="0" x2="1" y1="0" y2="0"><stop offset="0" stop-color="#ee3a3e"/><stop offset="0.079" stop-color="#ef4448"/><stop offset="0.181" stop-color="#ee6068"/><stop offset="0.222" stop-color="#f07a86"/><stop offset="0.263" stop-color="#f29cae"/><stop offset="0.291" stop-color="#f4c2d2"/><stop offset="0.332" stop-color="#f3dce8"/><stop offset="0.42" stop-color="#ebe2f2"/><stop offset="0.523" stop-color="#dedef4"/><stop offset="0.663" stop-color="#d4d4f2"/><stop offset="0.67" stop-color="#aaa8e2"/><stop offset="0.732" stop-color="#a4a2de"/><stop offset="0.739" stop-color="#6e6ac8"/><stop offset="0.903" stop-color="#605cc0"/><stop offset="0.91" stop-color="#2e2a9a"/><stop offset="1" stop-color="#28249a"/></linearGradient></defs>
<rect x="333.5" y="128.2" width="146.2" height="6.1" fill="url(#gsea)" />
<line x1="332.7" y1="35.3" x2="332.7" y2="135.7" stroke="#161616" stroke-width="1.3" />
<line x1="332.7" y1="135.2" x2="487.8" y2="135.2" stroke="#161616" stroke-width="1.3" />
<line x1="329.5" y1="37.5" x2="332.7" y2="37.5" stroke="#161616" stroke-width="1" />
<text x="323.8" y="40.5" font-size="8.4" text-anchor="end" fill="#1c1c1c" font-weight="normal" font-style="normal" stroke="#1c1c1c" stroke-width="0.1" >0.25</text>
<line x1="329.5" y1="44.85" x2="332.7" y2="44.85" stroke="#161616" stroke-width="1" />
<text x="323.8" y="47.85" font-size="8.4" text-anchor="end" fill="#1c1c1c" font-weight="normal" font-style="normal" stroke="#1c1c1c" stroke-width="0.1" >0.20</text>
<line x1="329.5" y1="52.2" x2="332.7" y2="52.2" stroke="#161616" stroke-width="1" />
<text x="323.8" y="55.2" font-size="8.4" text-anchor="end" fill="#1c1c1c" font-weight="normal" font-style="normal" stroke="#1c1c1c" stroke-width="0.1" >0.15</text>
<line x1="329.5" y1="59.55" x2="332.7" y2="59.55" stroke="#161616" stroke-width="1" />
<text x="323.8" y="62.55" font-size="8.4" text-anchor="end" fill="#1c1c1c" font-weight="normal" font-style="normal" stroke="#1c1c1c" stroke-width="0.1" >0.10</text>
<line x1="329.5" y1="66.9" x2="332.7" y2="66.9" stroke="#161616" stroke-width="1" />
<text x="323.8" y="69.9" font-size="8.4" text-anchor="end" fill="#1c1c1c" font-weight="normal" font-style="normal" stroke="#1c1c1c" stroke-width="0.1" >0.05</text>
<line x1="329.5" y1="74.25" x2="332.7" y2="74.25" stroke="#161616" stroke-width="1" />
<text x="323.8" y="77.25" font-size="8.4" text-anchor="end" fill="#1c1c1c" font-weight="normal" font-style="normal" stroke="#1c1c1c" stroke-width="0.1" >0.00</text>
<line x1="329.5" y1="81.6" x2="332.7" y2="81.6" stroke="#161616" stroke-width="1" />
<text x="323.8" y="84.6" font-size="8.4" text-anchor="end" fill="#1c1c1c" font-weight="normal" font-style="normal" stroke="#1c1c1c" stroke-width="0.1" >−0.05</text>
<line x1="329.5" y1="88.95" x2="332.7" y2="88.95" stroke="#161616" stroke-width="1" />
<text x="323.8" y="91.95" font-size="8.4" text-anchor="end" fill="#1c1c1c" font-weight="normal" font-style="normal" stroke="#1c1c1c" stroke-width="0.1" >−0.10</text>
<line x1="329.5" y1="96.3" x2="332.7" y2="96.3" stroke="#161616" stroke-width="1" />
<text x="323.8" y="99.3" font-size="8.4" text-anchor="end" fill="#1c1c1c" font-weight="normal" font-style="normal" stroke="#1c1c1c" stroke-width="0.1" >−0.15</text>
<line x1="329.5" y1="103.65" x2="332.7" y2="103.65" stroke="#161616" stroke-width="1" />
<text x="323.8" y="106.65" font-size="8.4" text-anchor="end" fill="#1c1c1c" font-weight="normal" font-style="normal" stroke="#1c1c1c" stroke-width="0.1" >−0.20</text>
<text x="296.4" y="71" font-size="10.2" text-anchor="middle" fill="#1c1c1c" font-weight="bold" font-style="normal" textLength="74" lengthAdjust="spacingAndGlyphs" transform="rotate(-90 296.4 71)" stroke="#1c1c1c" stroke-width="0.15" >Enrichment score (ES)</text>
<text x="478" y="45.2" font-size="8" text-anchor="end" fill="#1c1c1c" font-weight="normal" font-style="normal" stroke="#1c1c1c" stroke-width="0.1" >NES: 1.21</text>
<text x="478" y="55.3" font-size="8" text-anchor="end" fill="#1c1c1c" font-weight="normal" font-style="normal" stroke="#1c1c1c" stroke-width="0.1" ><tspan font-style="italic">P</tspan>-value &lt; .001</text>
<text x="478" y="65.2" font-size="8" text-anchor="end" fill="#1c1c1c" font-weight="normal" font-style="normal" stroke="#1c1c1c" stroke-width="0.1" >FDRq = 0.164</text>
<text x="336.3" y="145.2" font-size="7.6" text-anchor="start" fill="#1c1c1c" font-weight="normal" font-style="normal" stroke="#1c1c1c" stroke-width="0.1" >High <tspan font-style="italic">IL-6R</tspan></text>
<text x="479.2" y="145.2" font-size="7.6" text-anchor="end" fill="#1c1c1c" font-weight="normal" font-style="normal" stroke="#1c1c1c" stroke-width="0.1" >Low <tspan font-style="italic">IL-6R</tspan></text>
<text x="9.9" y="213" font-size="15.4" text-anchor="start" fill="#111" font-weight="bold" font-style="normal" stroke="#111" stroke-width="0.1" >C</text>
<line x1="89.9" y1="252.5" x2="89.9" y2="307" stroke="#a4a4ae" stroke-width="1.1" />
<line x1="121.2" y1="257" x2="121.2" y2="307" stroke="#a4a4ae" stroke-width="1.1" />
<line x1="152.3" y1="238" x2="152.3" y2="307" stroke="#a4a4ae" stroke-width="1.1" />
<line x1="89.9" y1="243.4" x2="89.9" y2="249.4" stroke="#161616" stroke-width="1.1" />
<polygon points="87.5,248.2 92.3,248.2 89.9,252.4" fill="#161616" />
<line x1="121.2" y1="247.4" x2="121.2" y2="253.8" stroke="#161616" stroke-width="1.1" />
<polygon points="118.8,252.6 123.6,252.6 121.2,256.8" fill="#161616" />
<line x1="152.5" y1="229.8" x2="152.5" y2="235.2" stroke="#161616" stroke-width="1.1" />
<polygon points="150.1,234 154.9,234 152.5,238.2" fill="#161616" />
<text x="90" y="240.8" font-size="8.4" text-anchor="middle" fill="#1c1c1c" font-weight="normal" font-style="normal" stroke="#1c1c1c" stroke-width="0.1" >Oligo A</text>
<text x="121" y="242.7" font-size="8.4" text-anchor="middle" fill="#1c1c1c" font-weight="normal" font-style="normal" stroke="#1c1c1c" stroke-width="0.1" >FCCP</text>
<text x="156" y="228.7" font-size="8.4" text-anchor="middle" fill="#1c1c1c" font-weight="normal" font-style="normal" stroke="#1c1c1c" stroke-width="0.1" >Rot/AA</text>
<line x1="66.1" y1="284.75" x2="66.1" y2="289.09" stroke="#f2b432" stroke-width="0.8" />
<line x1="64.8" y1="284.75" x2="67.4" y2="284.75" stroke="#f2b432" stroke-width="0.8" />
<line x1="64.8" y1="289.09" x2="67.4" y2="289.09" stroke="#f2b432" stroke-width="0.8" />
<line x1="76.2" y1="287.2" x2="76.2" y2="292.62" stroke="#f2b432" stroke-width="0.8" />
<line x1="74.9" y1="287.2" x2="77.5" y2="287.2" stroke="#f2b432" stroke-width="0.8" />
<line x1="74.9" y1="292.62" x2="77.5" y2="292.62" stroke="#f2b432" stroke-width="0.8" />
<line x1="86.6" y1="287.74" x2="86.6" y2="293.16" stroke="#f2b432" stroke-width="0.8" />
<line x1="85.3" y1="287.74" x2="87.9" y2="287.74" stroke="#f2b432" stroke-width="0.8" />
<line x1="85.3" y1="293.16" x2="87.9" y2="293.16" stroke="#f2b432" stroke-width="0.8" />
<line x1="97.4" y1="287.47" x2="97.4" y2="293.98" stroke="#f2b432" stroke-width="0.8" />
<line x1="96.1" y1="287.47" x2="98.7" y2="287.47" stroke="#f2b432" stroke-width="0.8" />
<line x1="96.1" y1="293.98" x2="98.7" y2="293.98" stroke="#f2b432" stroke-width="0.8" />
<line x1="107.4" y1="289.64" x2="107.4" y2="297.23" stroke="#f2b432" stroke-width="0.8" />
<line x1="106.1" y1="289.64" x2="108.7" y2="289.64" stroke="#f2b432" stroke-width="0.8" />
<line x1="106.1" y1="297.23" x2="108.7" y2="297.23" stroke="#f2b432" stroke-width="0.8" />
<line x1="117.9" y1="290.72" x2="117.9" y2="297.23" stroke="#f2b432" stroke-width="0.8" />
<line x1="116.6" y1="290.72" x2="119.2" y2="290.72" stroke="#f2b432" stroke-width="0.8" />
<line x1="116.6" y1="297.23" x2="119.2" y2="297.23" stroke="#f2b432" stroke-width="0.8" />
<line x1="128.7" y1="278.24" x2="128.7" y2="282.58" stroke="#f2b432" stroke-width="0.8" />
<line x1="127.4" y1="278.24" x2="130" y2="278.24" stroke="#f2b432" stroke-width="0.8" />
<line x1="127.4" y1="282.58" x2="130" y2="282.58" stroke="#f2b432" stroke-width="0.8" />
<line x1="139.5" y1="278.24" x2="139.5" y2="282.58" stroke="#f2b432" stroke-width="0.8" />
<line x1="138.2" y1="278.24" x2="140.8" y2="278.24" stroke="#f2b432" stroke-width="0.8" />
<line x1="138.2" y1="282.58" x2="140.8" y2="282.58" stroke="#f2b432" stroke-width="0.8" />
<line x1="149.9" y1="278.24" x2="149.9" y2="282.58" stroke="#f2b432" stroke-width="0.8" />
<line x1="148.6" y1="278.24" x2="151.2" y2="278.24" stroke="#f2b432" stroke-width="0.8" />
<line x1="148.6" y1="282.58" x2="151.2" y2="282.58" stroke="#f2b432" stroke-width="0.8" />
<line x1="159.7" y1="293.71" x2="159.7" y2="298.05" stroke="#f2b432" stroke-width="0.8" />
<line x1="158.4" y1="293.71" x2="161" y2="293.71" stroke="#f2b432" stroke-width="0.8" />
<line x1="158.4" y1="298.05" x2="161" y2="298.05" stroke="#f2b432" stroke-width="0.8" />
<line x1="170.5" y1="293.98" x2="170.5" y2="299.4" stroke="#f2b432" stroke-width="0.8" />
<line x1="169.2" y1="293.98" x2="171.8" y2="293.98" stroke="#f2b432" stroke-width="0.8" />
<line x1="169.2" y1="299.4" x2="171.8" y2="299.4" stroke="#f2b432" stroke-width="0.8" />
<line x1="181.2" y1="293.71" x2="181.2" y2="298.05" stroke="#f2b432" stroke-width="0.8" />
<line x1="179.9" y1="293.71" x2="182.5" y2="293.71" stroke="#f2b432" stroke-width="0.8" />
<line x1="179.9" y1="298.05" x2="182.5" y2="298.05" stroke="#f2b432" stroke-width="0.8" />
<line x1="66.1" y1="283.13" x2="66.1" y2="287.47" stroke="#e39a3a" stroke-width="0.8" />
<line x1="64.8" y1="283.13" x2="67.4" y2="283.13" stroke="#e39a3a" stroke-width="0.8" />
<line x1="64.8" y1="287.47" x2="67.4" y2="287.47" stroke="#e39a3a" stroke-width="0.8" />
<line x1="76.2" y1="284.21" x2="76.2" y2="289.64" stroke="#e39a3a" stroke-width="0.8" />
<line x1="74.9" y1="284.21" x2="77.5" y2="284.21" stroke="#e39a3a" stroke-width="0.8" />
<line x1="74.9" y1="289.64" x2="77.5" y2="289.64" stroke="#e39a3a" stroke-width="0.8" />
<line x1="86.6" y1="285.3" x2="86.6" y2="289.64" stroke="#e39a3a" stroke-width="0.8" />
<line x1="85.3" y1="285.3" x2="87.9" y2="285.3" stroke="#e39a3a" stroke-width="0.8" />
<line x1="85.3" y1="289.64" x2="87.9" y2="289.64" stroke="#e39a3a" stroke-width="0.8" />
<line x1="97.4" y1="286.92" x2="97.4" y2="292.35" stroke="#e39a3a" stroke-width="0.8" />
<line x1="96.1" y1="286.92" x2="98.7" y2="286.92" stroke="#e39a3a" stroke-width="0.8" />
<line x1="96.1" y1="292.35" x2="98.7" y2="292.35" stroke="#e39a3a" stroke-width="0.8" />
<line x1="107.4" y1="288.01" x2="107.4" y2="293.44" stroke="#e39a3a" stroke-width="0.8" />
<line x1="106.1" y1="288.01" x2="108.7" y2="288.01" stroke="#e39a3a" stroke-width="0.8" />
<line x1="106.1" y1="293.44" x2="108.7" y2="293.44" stroke="#e39a3a" stroke-width="0.8" />
<line x1="117.9" y1="288.55" x2="117.9" y2="293.98" stroke="#e39a3a" stroke-width="0.8" />
<line x1="116.6" y1="288.55" x2="119.2" y2="288.55" stroke="#e39a3a" stroke-width="0.8" />
<line x1="116.6" y1="293.98" x2="119.2" y2="293.98" stroke="#e39a3a" stroke-width="0.8" />
<line x1="128.7" y1="277.43" x2="128.7" y2="280.68" stroke="#e39a3a" stroke-width="0.8" />
<line x1="127.4" y1="277.43" x2="130" y2="277.43" stroke="#e39a3a" stroke-width="0.8" />
<line x1="127.4" y1="280.68" x2="130" y2="280.68" stroke="#e39a3a" stroke-width="0.8" />
<line x1="139.5" y1="277.43" x2="139.5" y2="280.68" stroke="#e39a3a" stroke-width="0.8" />
<line x1="138.2" y1="277.43" x2="140.8" y2="277.43" stroke="#e39a3a" stroke-width="0.8" />
<line x1="138.2" y1="280.68" x2="140.8" y2="280.68" stroke="#e39a3a" stroke-width="0.8" />
<line x1="149.9" y1="276.61" x2="149.9" y2="280.96" stroke="#e39a3a" stroke-width="0.8" />
<line x1="148.6" y1="276.61" x2="151.2" y2="276.61" stroke="#e39a3a" stroke-width="0.8" />
<line x1="148.6" y1="280.96" x2="151.2" y2="280.96" stroke="#e39a3a" stroke-width="0.8" />
<line x1="159.7" y1="289.64" x2="159.7" y2="293.98" stroke="#e39a3a" stroke-width="0.8" />
<line x1="158.4" y1="289.64" x2="161" y2="289.64" stroke="#e39a3a" stroke-width="0.8" />
<line x1="158.4" y1="293.98" x2="161" y2="293.98" stroke="#e39a3a" stroke-width="0.8" />
<line x1="170.5" y1="290.45" x2="170.5" y2="294.79" stroke="#e39a3a" stroke-width="0.8" />
<line x1="169.2" y1="290.45" x2="171.8" y2="290.45" stroke="#e39a3a" stroke-width="0.8" />
<line x1="169.2" y1="294.79" x2="171.8" y2="294.79" stroke="#e39a3a" stroke-width="0.8" />
<line x1="181.2" y1="289.91" x2="181.2" y2="294.25" stroke="#e39a3a" stroke-width="0.8" />
<line x1="179.9" y1="289.91" x2="182.5" y2="289.91" stroke="#e39a3a" stroke-width="0.8" />
<line x1="179.9" y1="294.25" x2="182.5" y2="294.25" stroke="#e39a3a" stroke-width="0.8" />
<line x1="66.1" y1="278.78" x2="66.1" y2="281.5" stroke="#9c6838" stroke-width="0.8" />
<line x1="64.8" y1="278.78" x2="67.4" y2="278.78" stroke="#9c6838" stroke-width="0.8" />
<line x1="64.8" y1="281.5" x2="67.4" y2="281.5" stroke="#9c6838" stroke-width="0.8" />
<line x1="76.2" y1="280.96" x2="76.2" y2="283.67" stroke="#9c6838" stroke-width="0.8" />
<line x1="74.9" y1="280.96" x2="77.5" y2="280.96" stroke="#9c6838" stroke-width="0.8" />
<line x1="74.9" y1="283.67" x2="77.5" y2="283.67" stroke="#9c6838" stroke-width="0.8" />
<line x1="86.6" y1="281.77" x2="86.6" y2="284.48" stroke="#9c6838" stroke-width="0.8" />
<line x1="85.3" y1="281.77" x2="87.9" y2="281.77" stroke="#9c6838" stroke-width="0.8" />
<line x1="85.3" y1="284.48" x2="87.9" y2="284.48" stroke="#9c6838" stroke-width="0.8" />
<line x1="97.4" y1="286.11" x2="97.4" y2="288.82" stroke="#9c6838" stroke-width="0.8" />
<line x1="96.1" y1="286.11" x2="98.7" y2="286.11" stroke="#9c6838" stroke-width="0.8" />
<line x1="96.1" y1="288.82" x2="98.7" y2="288.82" stroke="#9c6838" stroke-width="0.8" />
<line x1="107.4" y1="286.65" x2="107.4" y2="289.37" stroke="#9c6838" stroke-width="0.8" />
<line x1="106.1" y1="286.65" x2="108.7" y2="286.65" stroke="#9c6838" stroke-width="0.8" />
<line x1="106.1" y1="289.37" x2="108.7" y2="289.37" stroke="#9c6838" stroke-width="0.8" />
<line x1="117.9" y1="286.65" x2="117.9" y2="289.37" stroke="#9c6838" stroke-width="0.8" />
<line x1="116.6" y1="286.65" x2="119.2" y2="286.65" stroke="#9c6838" stroke-width="0.8" />
<line x1="116.6" y1="289.37" x2="119.2" y2="289.37" stroke="#9c6838" stroke-width="0.8" />
<line x1="128.7" y1="276.34" x2="128.7" y2="279.06" stroke="#9c6838" stroke-width="0.8" />
<line x1="127.4" y1="276.34" x2="130" y2="276.34" stroke="#9c6838" stroke-width="0.8" />
<line x1="127.4" y1="279.06" x2="130" y2="279.06" stroke="#9c6838" stroke-width="0.8" />
<line x1="139.5" y1="274.99" x2="139.5" y2="280.41" stroke="#9c6838" stroke-width="0.8" />
<line x1="138.2" y1="274.99" x2="140.8" y2="274.99" stroke="#9c6838" stroke-width="0.8" />
<line x1="138.2" y1="280.41" x2="140.8" y2="280.41" stroke="#9c6838" stroke-width="0.8" />
<line x1="149.9" y1="273.9" x2="149.9" y2="280.41" stroke="#9c6838" stroke-width="0.8" />
<line x1="148.6" y1="273.9" x2="151.2" y2="273.9" stroke="#9c6838" stroke-width="0.8" />
<line x1="148.6" y1="280.41" x2="151.2" y2="280.41" stroke="#9c6838" stroke-width="0.8" />
<line x1="159.7" y1="286.38" x2="159.7" y2="289.64" stroke="#9c6838" stroke-width="0.8" />
<line x1="158.4" y1="286.38" x2="161" y2="286.38" stroke="#9c6838" stroke-width="0.8" />
<line x1="158.4" y1="289.64" x2="161" y2="289.64" stroke="#9c6838" stroke-width="0.8" />
<line x1="170.5" y1="287.47" x2="170.5" y2="290.18" stroke="#9c6838" stroke-width="0.8" />
<line x1="169.2" y1="287.47" x2="171.8" y2="287.47" stroke="#9c6838" stroke-width="0.8" />
<line x1="169.2" y1="290.18" x2="171.8" y2="290.18" stroke="#9c6838" stroke-width="0.8" />
<line x1="181.2" y1="286.65" x2="181.2" y2="289.37" stroke="#9c6838" stroke-width="0.8" />
<line x1="179.9" y1="286.65" x2="182.5" y2="286.65" stroke="#9c6838" stroke-width="0.8" />
<line x1="179.9" y1="289.37" x2="182.5" y2="289.37" stroke="#9c6838" stroke-width="0.8" />
<line x1="66.1" y1="256" x2="66.1" y2="262.51" stroke="#8fd0f0" stroke-width="0.8" />
<line x1="64.8" y1="256" x2="67.4" y2="256" stroke="#8fd0f0" stroke-width="0.8" />
<line x1="64.8" y1="262.51" x2="67.4" y2="262.51" stroke="#8fd0f0" stroke-width="0.8" />
<line x1="76.2" y1="256.54" x2="76.2" y2="263.05" stroke="#8fd0f0" stroke-width="0.8" />
<line x1="74.9" y1="256.54" x2="77.5" y2="256.54" stroke="#8fd0f0" stroke-width="0.8" />
<line x1="74.9" y1="263.05" x2="77.5" y2="263.05" stroke="#8fd0f0" stroke-width="0.8" />
<line x1="86.6" y1="259.25" x2="86.6" y2="264.68" stroke="#8fd0f0" stroke-width="0.8" />
<line x1="85.3" y1="259.25" x2="87.9" y2="259.25" stroke="#8fd0f0" stroke-width="0.8" />
<line x1="85.3" y1="264.68" x2="87.9" y2="264.68" stroke="#8fd0f0" stroke-width="0.8" />
<line x1="97.4" y1="271.73" x2="97.4" y2="273.36" stroke="#8fd0f0" stroke-width="0.8" />
<line x1="96.1" y1="271.73" x2="98.7" y2="271.73" stroke="#8fd0f0" stroke-width="0.8" />
<line x1="96.1" y1="273.36" x2="98.7" y2="273.36" stroke="#8fd0f0" stroke-width="0.8" />
<line x1="107.4" y1="272" x2="107.4" y2="273.63" stroke="#8fd0f0" stroke-width="0.8" />
<line x1="106.1" y1="272" x2="108.7" y2="272" stroke="#8fd0f0" stroke-width="0.8" />
<line x1="106.1" y1="273.63" x2="108.7" y2="273.63" stroke="#8fd0f0" stroke-width="0.8" />
<line x1="117.9" y1="272.54" x2="117.9" y2="274.17" stroke="#8fd0f0" stroke-width="0.8" />
<line x1="116.6" y1="272.54" x2="119.2" y2="272.54" stroke="#8fd0f0" stroke-width="0.8" />
<line x1="116.6" y1="274.17" x2="119.2" y2="274.17" stroke="#8fd0f0" stroke-width="0.8" />
<line x1="128.7" y1="245.41" x2="128.7" y2="248.67" stroke="#8fd0f0" stroke-width="0.8" />
<line x1="127.4" y1="245.41" x2="130" y2="245.41" stroke="#8fd0f0" stroke-width="0.8" />
<line x1="127.4" y1="248.67" x2="130" y2="248.67" stroke="#8fd0f0" stroke-width="0.8" />
<line x1="139.5" y1="245.14" x2="139.5" y2="247.86" stroke="#8fd0f0" stroke-width="0.8" />
<line x1="138.2" y1="245.14" x2="140.8" y2="245.14" stroke="#8fd0f0" stroke-width="0.8" />
<line x1="138.2" y1="247.86" x2="140.8" y2="247.86" stroke="#8fd0f0" stroke-width="0.8" />
<line x1="149.9" y1="244.6" x2="149.9" y2="247.31" stroke="#8fd0f0" stroke-width="0.8" />
<line x1="148.6" y1="244.6" x2="151.2" y2="244.6" stroke="#8fd0f0" stroke-width="0.8" />
<line x1="148.6" y1="247.31" x2="151.2" y2="247.31" stroke="#8fd0f0" stroke-width="0.8" />
<line x1="159.7" y1="278.24" x2="159.7" y2="279.33" stroke="#8fd0f0" stroke-width="0.8" />
<line x1="158.4" y1="278.24" x2="161" y2="278.24" stroke="#8fd0f0" stroke-width="0.8" />
<line x1="158.4" y1="279.33" x2="161" y2="279.33" stroke="#8fd0f0" stroke-width="0.8" />
<line x1="170.5" y1="278.24" x2="170.5" y2="279.33" stroke="#8fd0f0" stroke-width="0.8" />
<line x1="169.2" y1="278.24" x2="171.8" y2="278.24" stroke="#8fd0f0" stroke-width="0.8" />
<line x1="169.2" y1="279.33" x2="171.8" y2="279.33" stroke="#8fd0f0" stroke-width="0.8" />
<line x1="181.2" y1="278.24" x2="181.2" y2="279.33" stroke="#8fd0f0" stroke-width="0.8" />
<line x1="179.9" y1="278.24" x2="182.5" y2="278.24" stroke="#8fd0f0" stroke-width="0.8" />
<line x1="179.9" y1="279.33" x2="182.5" y2="279.33" stroke="#8fd0f0" stroke-width="0.8" />
<line x1="66.1" y1="252.2" x2="66.1" y2="260.88" stroke="#2ea0dc" stroke-width="0.8" />
<line x1="64.8" y1="252.2" x2="67.4" y2="252.2" stroke="#2ea0dc" stroke-width="0.8" />
<line x1="64.8" y1="260.88" x2="67.4" y2="260.88" stroke="#2ea0dc" stroke-width="0.8" />
<line x1="76.2" y1="254.1" x2="76.2" y2="261.69" stroke="#2ea0dc" stroke-width="0.8" />
<line x1="74.9" y1="254.1" x2="77.5" y2="254.1" stroke="#2ea0dc" stroke-width="0.8" />
<line x1="74.9" y1="261.69" x2="77.5" y2="261.69" stroke="#2ea0dc" stroke-width="0.8" />
<line x1="86.6" y1="257.62" x2="86.6" y2="263.05" stroke="#2ea0dc" stroke-width="0.8" />
<line x1="85.3" y1="257.62" x2="87.9" y2="257.62" stroke="#2ea0dc" stroke-width="0.8" />
<line x1="85.3" y1="263.05" x2="87.9" y2="263.05" stroke="#2ea0dc" stroke-width="0.8" />
<line x1="97.4" y1="271.19" x2="97.4" y2="272.82" stroke="#2ea0dc" stroke-width="0.8" />
<line x1="96.1" y1="271.19" x2="98.7" y2="271.19" stroke="#2ea0dc" stroke-width="0.8" />
<line x1="96.1" y1="272.82" x2="98.7" y2="272.82" stroke="#2ea0dc" stroke-width="0.8" />
<line x1="107.4" y1="271.73" x2="107.4" y2="273.36" stroke="#2ea0dc" stroke-width="0.8" />
<line x1="106.1" y1="271.73" x2="108.7" y2="271.73" stroke="#2ea0dc" stroke-width="0.8" />
<line x1="106.1" y1="273.36" x2="108.7" y2="273.36" stroke="#2ea0dc" stroke-width="0.8" />
<line x1="117.9" y1="272.27" x2="117.9" y2="273.9" stroke="#2ea0dc" stroke-width="0.8" />
<line x1="116.6" y1="272.27" x2="119.2" y2="272.27" stroke="#2ea0dc" stroke-width="0.8" />
<line x1="116.6" y1="273.9" x2="119.2" y2="273.9" stroke="#2ea0dc" stroke-width="0.8" />
<line x1="128.7" y1="241.35" x2="128.7" y2="245.69" stroke="#2ea0dc" stroke-width="0.8" />
<line x1="127.4" y1="241.35" x2="130" y2="241.35" stroke="#2ea0dc" stroke-width="0.8" />
<line x1="127.4" y1="245.69" x2="130" y2="245.69" stroke="#2ea0dc" stroke-width="0.8" />
<line x1="139.5" y1="241.62" x2="139.5" y2="244.87" stroke="#2ea0dc" stroke-width="0.8" />
<line x1="138.2" y1="241.62" x2="140.8" y2="241.62" stroke="#2ea0dc" stroke-width="0.8" />
<line x1="138.2" y1="244.87" x2="140.8" y2="244.87" stroke="#2ea0dc" stroke-width="0.8" />
<line x1="149.9" y1="239.99" x2="149.9" y2="243.24" stroke="#2ea0dc" stroke-width="0.8" />
<line x1="148.6" y1="239.99" x2="151.2" y2="239.99" stroke="#2ea0dc" stroke-width="0.8" />
<line x1="148.6" y1="243.24" x2="151.2" y2="243.24" stroke="#2ea0dc" stroke-width="0.8" />
<line x1="159.7" y1="277.97" x2="159.7" y2="279.06" stroke="#2ea0dc" stroke-width="0.8" />
<line x1="158.4" y1="277.97" x2="161" y2="277.97" stroke="#2ea0dc" stroke-width="0.8" />
<line x1="158.4" y1="279.06" x2="161" y2="279.06" stroke="#2ea0dc" stroke-width="0.8" />
<line x1="170.5" y1="277.97" x2="170.5" y2="279.06" stroke="#2ea0dc" stroke-width="0.8" />
<line x1="169.2" y1="277.97" x2="171.8" y2="277.97" stroke="#2ea0dc" stroke-width="0.8" />
<line x1="169.2" y1="279.06" x2="171.8" y2="279.06" stroke="#2ea0dc" stroke-width="0.8" />
<line x1="181.2" y1="277.97" x2="181.2" y2="279.06" stroke="#2ea0dc" stroke-width="0.8" />
<line x1="179.9" y1="277.97" x2="182.5" y2="277.97" stroke="#2ea0dc" stroke-width="0.8" />
<line x1="179.9" y1="279.06" x2="182.5" y2="279.06" stroke="#2ea0dc" stroke-width="0.8" />
<line x1="66.1" y1="253.55" x2="66.1" y2="261.15" stroke="#1f5a9a" stroke-width="0.8" />
<line x1="64.8" y1="253.55" x2="67.4" y2="253.55" stroke="#1f5a9a" stroke-width="0.8" />
<line x1="64.8" y1="261.15" x2="67.4" y2="261.15" stroke="#1f5a9a" stroke-width="0.8" />
<line x1="76.2" y1="254.37" x2="76.2" y2="263.05" stroke="#1f5a9a" stroke-width="0.8" />
<line x1="74.9" y1="254.37" x2="77.5" y2="254.37" stroke="#1f5a9a" stroke-width="0.8" />
<line x1="74.9" y1="263.05" x2="77.5" y2="263.05" stroke="#1f5a9a" stroke-width="0.8" />
<line x1="86.6" y1="257.62" x2="86.6" y2="264.13" stroke="#1f5a9a" stroke-width="0.8" />
<line x1="85.3" y1="257.62" x2="87.9" y2="257.62" stroke="#1f5a9a" stroke-width="0.8" />
<line x1="85.3" y1="264.13" x2="87.9" y2="264.13" stroke="#1f5a9a" stroke-width="0.8" />
<line x1="97.4" y1="271.46" x2="97.4" y2="273.09" stroke="#1f5a9a" stroke-width="0.8" />
<line x1="96.1" y1="271.46" x2="98.7" y2="271.46" stroke="#1f5a9a" stroke-width="0.8" />
<line x1="96.1" y1="273.09" x2="98.7" y2="273.09" stroke="#1f5a9a" stroke-width="0.8" />
<line x1="107.4" y1="272" x2="107.4" y2="273.63" stroke="#1f5a9a" stroke-width="0.8" />
<line x1="106.1" y1="272" x2="108.7" y2="272" stroke="#1f5a9a" stroke-width="0.8" />
<line x1="106.1" y1="273.63" x2="108.7" y2="273.63" stroke="#1f5a9a" stroke-width="0.8" />
<line x1="117.9" y1="272.54" x2="117.9" y2="274.17" stroke="#1f5a9a" stroke-width="0.8" />
<line x1="116.6" y1="272.54" x2="119.2" y2="272.54" stroke="#1f5a9a" stroke-width="0.8" />
<line x1="116.6" y1="274.17" x2="119.2" y2="274.17" stroke="#1f5a9a" stroke-width="0.8" />
<line x1="128.7" y1="249.76" x2="128.7" y2="257.35" stroke="#1f5a9a" stroke-width="0.8" />
<line x1="127.4" y1="249.76" x2="130" y2="249.76" stroke="#1f5a9a" stroke-width="0.8" />
<line x1="127.4" y1="257.35" x2="130" y2="257.35" stroke="#1f5a9a" stroke-width="0.8" />
<line x1="139.5" y1="248.94" x2="139.5" y2="255.45" stroke="#1f5a9a" stroke-width="0.8" />
<line x1="138.2" y1="248.94" x2="140.8" y2="248.94" stroke="#1f5a9a" stroke-width="0.8" />
<line x1="138.2" y1="255.45" x2="140.8" y2="255.45" stroke="#1f5a9a" stroke-width="0.8" />
<line x1="149.9" y1="248.67" x2="149.9" y2="254.1" stroke="#1f5a9a" stroke-width="0.8" />
<line x1="148.6" y1="248.67" x2="151.2" y2="248.67" stroke="#1f5a9a" stroke-width="0.8" />
<line x1="148.6" y1="254.1" x2="151.2" y2="254.1" stroke="#1f5a9a" stroke-width="0.8" />
<line x1="159.7" y1="278.24" x2="159.7" y2="279.33" stroke="#1f5a9a" stroke-width="0.8" />
<line x1="158.4" y1="278.24" x2="161" y2="278.24" stroke="#1f5a9a" stroke-width="0.8" />
<line x1="158.4" y1="279.33" x2="161" y2="279.33" stroke="#1f5a9a" stroke-width="0.8" />
<line x1="170.5" y1="278.24" x2="170.5" y2="279.33" stroke="#1f5a9a" stroke-width="0.8" />
<line x1="169.2" y1="278.24" x2="171.8" y2="278.24" stroke="#1f5a9a" stroke-width="0.8" />
<line x1="169.2" y1="279.33" x2="171.8" y2="279.33" stroke="#1f5a9a" stroke-width="0.8" />
<line x1="181.2" y1="278.24" x2="181.2" y2="279.33" stroke="#1f5a9a" stroke-width="0.8" />
<line x1="179.9" y1="278.24" x2="182.5" y2="278.24" stroke="#1f5a9a" stroke-width="0.8" />
<line x1="179.9" y1="279.33" x2="182.5" y2="279.33" stroke="#1f5a9a" stroke-width="0.8" />
<polyline points="66.1,286.92 76.2,289.91 86.6,290.45 97.4,290.72 107.4,293.44 117.9,293.98 128.7,280.41 139.5,280.41 149.9,280.41 159.7,295.88 170.5,296.69 181.2,295.88" fill="none" stroke="#f2b432" stroke-width="1" stroke-linejoin="round" />
<rect x="64.4" y="285.22" width="3.4" height="3.4" fill="#f2b432" />
<rect x="74.5" y="288.21" width="3.4" height="3.4" fill="#f2b432" />
<rect x="84.9" y="288.75" width="3.4" height="3.4" fill="#f2b432" />
<rect x="95.7" y="289.02" width="3.4" height="3.4" fill="#f2b432" />
<rect x="105.7" y="291.74" width="3.4" height="3.4" fill="#f2b432" />
<rect x="116.2" y="292.28" width="3.4" height="3.4" fill="#f2b432" />
<rect x="127" y="278.71" width="3.4" height="3.4" fill="#f2b432" />
<rect x="137.8" y="278.71" width="3.4" height="3.4" fill="#f2b432" />
<rect x="148.2" y="278.71" width="3.4" height="3.4" fill="#f2b432" />
<rect x="158" y="294.18" width="3.4" height="3.4" fill="#f2b432" />
<rect x="168.8" y="294.99" width="3.4" height="3.4" fill="#f2b432" />
<rect x="179.5" y="294.18" width="3.4" height="3.4" fill="#f2b432" />
<polyline points="66.1,285.3 76.2,286.92 86.6,287.47 97.4,289.64 107.4,290.72 117.9,291.26 128.7,279.06 139.5,279.06 149.9,278.78 159.7,291.81 170.5,292.62 181.2,292.08" fill="none" stroke="#e39a3a" stroke-width="1" stroke-linejoin="round" />
<rect x="64.4" y="283.6" width="3.4" height="3.4" fill="#e39a3a" />
<rect x="74.5" y="285.22" width="3.4" height="3.4" fill="#e39a3a" />
<rect x="84.9" y="285.77" width="3.4" height="3.4" fill="#e39a3a" />
<rect x="95.7" y="287.94" width="3.4" height="3.4" fill="#e39a3a" />
<rect x="105.7" y="289.02" width="3.4" height="3.4" fill="#e39a3a" />
<rect x="116.2" y="289.56" width="3.4" height="3.4" fill="#e39a3a" />
<rect x="127" y="277.36" width="3.4" height="3.4" fill="#e39a3a" />
<rect x="137.8" y="277.36" width="3.4" height="3.4" fill="#e39a3a" />
<rect x="148.2" y="277.08" width="3.4" height="3.4" fill="#e39a3a" />
<rect x="158" y="290.11" width="3.4" height="3.4" fill="#e39a3a" />
<rect x="168.8" y="290.92" width="3.4" height="3.4" fill="#e39a3a" />
<rect x="179.5" y="290.38" width="3.4" height="3.4" fill="#e39a3a" />
<polyline points="66.1,280.14 76.2,282.31 86.6,283.13 97.4,287.47 107.4,288.01 117.9,288.01 128.7,277.7 139.5,277.7 149.9,277.16 159.7,288.01 170.5,288.82 181.2,288.01" fill="none" stroke="#9c6838" stroke-width="1" stroke-linejoin="round" />
<circle cx="66.1" cy="280.14" r="1.7" fill="#9c6838" />
<circle cx="76.2" cy="282.31" r="1.7" fill="#9c6838" />
<circle cx="86.6" cy="283.13" r="1.7" fill="#9c6838" />
<circle cx="97.4" cy="287.47" r="1.7" fill="#9c6838" />
<circle cx="107.4" cy="288.01" r="1.7" fill="#9c6838" />
<circle cx="117.9" cy="288.01" r="1.7" fill="#9c6838" />
<circle cx="128.7" cy="277.7" r="1.7" fill="#9c6838" />
<circle cx="139.5" cy="277.7" r="1.7" fill="#9c6838" />
<circle cx="149.9" cy="277.16" r="1.7" fill="#9c6838" />
<circle cx="159.7" cy="288.01" r="1.7" fill="#9c6838" />
<circle cx="170.5" cy="288.82" r="1.7" fill="#9c6838" />
<circle cx="181.2" cy="288.01" r="1.7" fill="#9c6838" />
<polyline points="66.1,259.25 76.2,259.79 86.6,261.96 97.4,272.54 107.4,272.82 117.9,273.36 128.7,247.04 139.5,246.5 149.9,245.96 159.7,278.78 170.5,278.78 181.2,278.78" fill="none" stroke="#8fd0f0" stroke-width="1" stroke-linejoin="round" />
<rect x="64.3" y="257.45" width="3.6" height="3.6" fill="#8fd0f0" />
<rect x="74.4" y="257.99" width="3.6" height="3.6" fill="#8fd0f0" />
<rect x="84.8" y="260.16" width="3.6" height="3.6" fill="#8fd0f0" />
<rect x="95.6" y="270.74" width="3.6" height="3.6" fill="#8fd0f0" />
<rect x="105.6" y="271.02" width="3.6" height="3.6" fill="#8fd0f0" />
<rect x="116.1" y="271.56" width="3.6" height="3.6" fill="#8fd0f0" />
<rect x="126.9" y="245.24" width="3.6" height="3.6" fill="#8fd0f0" />
<rect x="137.7" y="244.7" width="3.6" height="3.6" fill="#8fd0f0" />
<rect x="148.1" y="244.16" width="3.6" height="3.6" fill="#8fd0f0" />
<rect x="157.9" y="276.98" width="3.6" height="3.6" fill="#8fd0f0" />
<rect x="168.7" y="276.98" width="3.6" height="3.6" fill="#8fd0f0" />
<rect x="179.4" y="276.98" width="3.6" height="3.6" fill="#8fd0f0" />
<polyline points="66.1,256.54 76.2,257.89 86.6,260.34 97.4,272 107.4,272.54 117.9,273.09 128.7,243.52 139.5,243.24 149.9,241.62 159.7,278.51 170.5,278.51 181.2,278.51" fill="none" stroke="#2ea0dc" stroke-width="1" stroke-linejoin="round" />
<rect x="64.3" y="254.74" width="3.6" height="3.6" fill="#2ea0dc" />
<rect x="74.4" y="256.09" width="3.6" height="3.6" fill="#2ea0dc" />
<rect x="84.8" y="258.54" width="3.6" height="3.6" fill="#2ea0dc" />
<rect x="95.6" y="270.2" width="3.6" height="3.6" fill="#2ea0dc" />
<rect x="105.6" y="270.74" width="3.6" height="3.6" fill="#2ea0dc" />
<rect x="116.1" y="271.29" width="3.6" height="3.6" fill="#2ea0dc" />
<rect x="126.9" y="241.72" width="3.6" height="3.6" fill="#2ea0dc" />
<rect x="137.7" y="241.44" width="3.6" height="3.6" fill="#2ea0dc" />
<rect x="148.1" y="239.82" width="3.6" height="3.6" fill="#2ea0dc" />
<rect x="157.9" y="276.71" width="3.6" height="3.6" fill="#2ea0dc" />
<rect x="168.7" y="276.71" width="3.6" height="3.6" fill="#2ea0dc" />
<rect x="179.4" y="276.71" width="3.6" height="3.6" fill="#2ea0dc" />
<polyline points="66.1,257.35 76.2,258.71 86.6,260.88 97.4,272.27 107.4,272.82 117.9,273.36 128.7,253.55 139.5,252.2 149.9,251.38 159.7,278.78 170.5,278.78 181.2,278.78" fill="none" stroke="#1f5a9a" stroke-width="1" stroke-linejoin="round" />
<circle cx="66.1" cy="257.35" r="2" fill="#1f5a9a" />
<circle cx="76.2" cy="258.71" r="2" fill="#1f5a9a" />
<circle cx="86.6" cy="260.88" r="2" fill="#1f5a9a" />
<circle cx="97.4" cy="272.27" r="2" fill="#1f5a9a" />
<circle cx="107.4" cy="272.82" r="2" fill="#1f5a9a" />
<circle cx="117.9" cy="273.36" r="2" fill="#1f5a9a" />
<circle cx="128.7" cy="253.55" r="2" fill="#1f5a9a" />
<circle cx="139.5" cy="252.2" r="2" fill="#1f5a9a" />
<circle cx="149.9" cy="251.38" r="2" fill="#1f5a9a" />
<circle cx="159.7" cy="278.78" r="2" fill="#1f5a9a" />
<circle cx="170.5" cy="278.78" r="2" fill="#1f5a9a" />
<circle cx="181.2" cy="278.78" r="2" fill="#1f5a9a" />
<line x1="64" y1="223.5" x2="64" y2="307.6" stroke="#161616" stroke-width="1.3" />
<line x1="63.4" y1="307" x2="187" y2="307" stroke="#161616" stroke-width="1.3" />
<line x1="60" y1="225.8" x2="64" y2="225.8" stroke="#161616" stroke-width="1" />
<text x="56.4" y="228.75" font-size="8.2" text-anchor="end" fill="#1c1c1c" font-weight="normal" font-style="normal" stroke="#1c1c1c" stroke-width="0.1" >300</text>
<line x1="60" y1="252.9" x2="64" y2="252.9" stroke="#161616" stroke-width="1" />
<text x="56.4" y="255.85" font-size="8.2" text-anchor="end" fill="#1c1c1c" font-weight="normal" font-style="normal" stroke="#1c1c1c" stroke-width="0.1" >200</text>
<line x1="60" y1="280" x2="64" y2="280" stroke="#161616" stroke-width="1" />
<text x="56.4" y="282.95" font-size="8.2" text-anchor="end" fill="#1c1c1c" font-weight="normal" font-style="normal" stroke="#1c1c1c" stroke-width="0.1" >100</text>
<line x1="60" y1="307" x2="64" y2="307" stroke="#161616" stroke-width="1" />
<text x="56.4" y="309.95" font-size="8.2" text-anchor="end" fill="#1c1c1c" font-weight="normal" font-style="normal" stroke="#1c1c1c" stroke-width="0.1" >0</text>
<line x1="64.4" y1="307" x2="64.4" y2="311" stroke="#161616" stroke-width="1" />
<text x="64.4" y="321.6" font-size="8.2" text-anchor="middle" fill="#1c1c1c" font-weight="normal" font-style="normal" stroke="#1c1c1c" stroke-width="0.1" >0</text>
<line x1="88.64" y1="307" x2="88.64" y2="311" stroke="#161616" stroke-width="1" />
<text x="88.64" y="321.6" font-size="8.2" text-anchor="middle" fill="#1c1c1c" font-weight="normal" font-style="normal" stroke="#1c1c1c" stroke-width="0.1" >20</text>
<line x1="112.88" y1="307" x2="112.88" y2="311" stroke="#161616" stroke-width="1" />
<text x="112.88" y="321.6" font-size="8.2" text-anchor="middle" fill="#1c1c1c" font-weight="normal" font-style="normal" stroke="#1c1c1c" stroke-width="0.1" >40</text>
<line x1="137.12" y1="307" x2="137.12" y2="311" stroke="#161616" stroke-width="1" />
<text x="137.12" y="321.6" font-size="8.2" text-anchor="middle" fill="#1c1c1c" font-weight="normal" font-style="normal" stroke="#1c1c1c" stroke-width="0.1" >60</text>
<line x1="161.36" y1="307" x2="161.36" y2="311" stroke="#161616" stroke-width="1" />
<text x="161.36" y="321.6" font-size="8.2" text-anchor="middle" fill="#1c1c1c" font-weight="normal" font-style="normal" stroke="#1c1c1c" stroke-width="0.1" >80</text>
<line x1="185.6" y1="307" x2="185.6" y2="311" stroke="#161616" stroke-width="1" />
<text x="185.6" y="321.6" font-size="8.2" text-anchor="middle" fill="#1c1c1c" font-weight="normal" font-style="normal" stroke="#1c1c1c" stroke-width="0.1" >100</text>
<text x="127.1" y="334.8" font-size="10.4" text-anchor="middle" fill="#1c1c1c" font-weight="bold" font-style="normal" textLength="35.8" lengthAdjust="spacingAndGlyphs" stroke="#1c1c1c" stroke-width="0.15" >Time (min)</text>
<text x="35.4" y="265.3" font-size="10" text-anchor="middle" fill="#1c1c1c" font-weight="bold" font-style="normal" textLength="54" lengthAdjust="spacingAndGlyphs" transform="rotate(-90 35.4 265.3)" stroke="#1c1c1c" stroke-width="0.15" >OCR (pmol/min)</text>
<line x1="185.8" y1="221.9" x2="200.8" y2="221.9" stroke="#1f5a9a" stroke-width="1.1" />
<circle cx="193.3" cy="221.9" r="1.9" fill="#1f5a9a" />
<text x="204.6" y="224.9" font-size="8.6" text-anchor="start" fill="#1c1c1c" font-weight="normal" font-style="normal" stroke="#1c1c1c" stroke-width="0.1" ><tspan font-style="italic">Il6</tspan><tspan font-size="5.2" dy="-3.6" font-style="italic">fl/fl</tspan><tspan dy="3.6">#1</tspan></text>
<line x1="185.8" y1="231.3" x2="200.8" y2="231.3" stroke="#2ea0dc" stroke-width="1.1" />
<rect x="191.5" y="229.5" width="3.6" height="3.6" fill="#2ea0dc" />
<text x="204.6" y="234.3" font-size="8.6" text-anchor="start" fill="#1c1c1c" font-weight="normal" font-style="normal" stroke="#1c1c1c" stroke-width="0.1" ><tspan font-style="italic">Il6</tspan><tspan font-size="5.2" dy="-3.6" font-style="italic">fl/fl</tspan><tspan dy="3.6">#2</tspan></text>
<line x1="185.8" y1="240.8" x2="200.8" y2="240.8" stroke="#8fd0f0" stroke-width="1.1" />
<rect x="191.5" y="239" width="3.6" height="3.6" fill="#8fd0f0" />
<text x="204.6" y="243.8" font-size="8.6" text-anchor="start" fill="#1c1c1c" font-weight="normal" font-style="normal" stroke="#1c1c1c" stroke-width="0.1" ><tspan font-style="italic">Il6</tspan><tspan font-size="5.2" dy="-3.6" font-style="italic">fl/fl</tspan><tspan dy="3.6">#3</tspan></text>
<line x1="185.8" y1="250.8" x2="200.8" y2="250.8" stroke="#9c6838" stroke-width="1.1" />
<circle cx="193.3" cy="250.8" r="1.9" fill="#9c6838" />
<text x="204.6" y="253.8" font-size="8.6" text-anchor="start" fill="#1c1c1c" font-weight="normal" font-style="normal" stroke="#1c1c1c" stroke-width="0.1" ><tspan font-style="italic">Il6</tspan><tspan font-size="5.2" dy="2.4" font-style="italic">Prx1</tspan><tspan font-size="5.4" dy="-6">−/−</tspan><tspan dy="3.6">#1</tspan></text>
<line x1="185.8" y1="261.9" x2="200.8" y2="261.9" stroke="#e39a3a" stroke-width="1.1" />
<rect x="191.5" y="260.1" width="3.6" height="3.6" fill="#e39a3a" />
<text x="204.6" y="264.9" font-size="8.6" text-anchor="start" fill="#1c1c1c" font-weight="normal" font-style="normal" stroke="#1c1c1c" stroke-width="0.1" ><tspan font-style="italic">Il6</tspan><tspan font-size="5.2" dy="2.4" font-style="italic">Prx1</tspan><tspan font-size="5.4" dy="-6">−/−</tspan><tspan dy="3.6">#2</tspan></text>
<line x1="185.8" y1="273.1" x2="200.8" y2="273.1" stroke="#f2b432" stroke-width="1.1" />
<rect x="191.5" y="271.3" width="3.6" height="3.6" fill="#f2b432" />
<text x="204.6" y="276.1" font-size="8.6" text-anchor="start" fill="#1c1c1c" font-weight="normal" font-style="normal" stroke="#1c1c1c" stroke-width="0.1" ><tspan font-style="italic">Il6</tspan><tspan font-size="5.2" dy="2.4" font-style="italic">Prx1</tspan><tspan font-size="5.4" dy="-6">−/−</tspan><tspan dy="3.6">#3</tspan></text>
<text x="277" y="213" font-size="15.4" text-anchor="start" fill="#111" font-weight="bold" font-style="normal" stroke="#111" stroke-width="0.1" >D</text>
<rect x="347.3" y="277.5" width="6.9" height="29" fill="#b3c9de" />
<rect x="358.2" y="295.7" width="6.9" height="10.8" fill="#f2d6bf" />
<rect x="375.6" y="244.8" width="6.9" height="61.7" fill="#b3c9de" />
<rect x="385.8" y="277.5" width="7" height="29" fill="#f2d6bf" />
<rect x="404.4" y="283.5" width="6.5" height="23" fill="#b3c9de" />
<rect x="414.7" y="299.1" width="6.3" height="7.4" fill="#f2d6bf" />
<line x1="350.7" y1="268" x2="350.7" y2="278.4" stroke="#1d5a97" stroke-width="0.8" />
<line x1="349.5" y1="268" x2="351.9" y2="268" stroke="#1d5a97" stroke-width="0.8" />
<line x1="349.5" y1="278.4" x2="351.9" y2="278.4" stroke="#1d5a97" stroke-width="0.8" />
<line x1="378.8" y1="234.2" x2="378.8" y2="252.5" stroke="#1d5a97" stroke-width="0.8" />
<line x1="377.6" y1="234.2" x2="380" y2="234.2" stroke="#1d5a97" stroke-width="0.8" />
<line x1="377.6" y1="252.5" x2="380" y2="252.5" stroke="#1d5a97" stroke-width="0.8" />
<line x1="389.3" y1="270.2" x2="389.3" y2="286.1" stroke="#cd8440" stroke-width="0.8" />
<line x1="388.1" y1="270.2" x2="390.5" y2="270.2" stroke="#cd8440" stroke-width="0.8" />
<line x1="388.1" y1="286.1" x2="390.5" y2="286.1" stroke="#cd8440" stroke-width="0.8" />
<line x1="407.4" y1="280.5" x2="407.4" y2="286.5" stroke="#1d5a97" stroke-width="0.8" />
<line x1="406.2" y1="280.5" x2="408.6" y2="280.5" stroke="#1d5a97" stroke-width="0.8" />
<line x1="406.2" y1="286.5" x2="408.6" y2="286.5" stroke="#1d5a97" stroke-width="0.8" />
<line x1="417.9" y1="295.5" x2="417.9" y2="302" stroke="#cd8440" stroke-width="0.8" />
<line x1="416.7" y1="295.5" x2="419.1" y2="295.5" stroke="#cd8440" stroke-width="0.8" />
<line x1="416.7" y1="302" x2="419.1" y2="302" stroke="#cd8440" stroke-width="0.8" />
<line x1="361.1" y1="294" x2="361.1" y2="297.5" stroke="#cd8440" stroke-width="0.8" />
<line x1="359.9" y1="294" x2="362.3" y2="294" stroke="#cd8440" stroke-width="0.8" />
<line x1="359.9" y1="297.5" x2="362.3" y2="297.5" stroke="#cd8440" stroke-width="0.8" />
<circle cx="350.7" cy="269.7" r="1.6" fill="#1d5a97" />
<circle cx="348.7" cy="276.6" r="1.6" fill="#1d5a97" />
<circle cx="352.5" cy="276.6" r="1.6" fill="#1d5a97" />
<circle cx="378.8" cy="234.7" r="1.6" fill="#1d5a97" />
<circle cx="378.8" cy="246" r="1.6" fill="#1d5a97" />
<circle cx="378.8" cy="252" r="1.6" fill="#1d5a97" />
<circle cx="405.4" cy="281" r="1.6" fill="#1d5a97" />
<circle cx="408.3" cy="283" r="1.6" fill="#1d5a97" />
<circle cx="405.7" cy="285.8" r="1.6" fill="#1d5a97" />
<circle cx="408.9" cy="284.8" r="1.6" fill="#1d5a97" />
<circle cx="359.4" cy="296.2" r="1.6" fill="#cd8440" />
<circle cx="361.1" cy="294.8" r="1.6" fill="#cd8440" />
<circle cx="362.8" cy="296.2" r="1.6" fill="#cd8440" />
<circle cx="387.6" cy="271.4" r="1.6" fill="#cd8440" />
<circle cx="391" cy="272.3" r="1.6" fill="#cd8440" />
<circle cx="389.3" cy="285.3" r="1.6" fill="#cd8440" />
<circle cx="417.9" cy="296.5" r="1.6" fill="#cd8440" />
<circle cx="416.1" cy="300.3" r="1.6" fill="#cd8440" />
<circle cx="419.6" cy="300.8" r="1.6" fill="#cd8440" />
<polyline points="350.4,264.8 350.4,262.8 361.1,262.8 361.1,290.5" fill="none" stroke="#161616" stroke-width="1" stroke-linejoin="round" stroke-linejoin="miter"/>
<text x="355.75" y="262.69" font-size="7.6" text-anchor="middle" fill="#1c1c1c" font-weight="normal" font-style="normal" stroke="#1c1c1c" stroke-width="0.35" >***</text>
<polyline points="378.7,229.4 378.7,225.1 389.7,225.1 389.7,268.5" fill="none" stroke="#161616" stroke-width="1" stroke-linejoin="round" stroke-linejoin="miter"/>
<text x="384.2" y="225.59" font-size="7.6" text-anchor="middle" fill="#1c1c1c" font-weight="normal" font-style="normal" stroke="#1c1c1c" stroke-width="0.35" >****</text>
<polyline points="407.5,274.9 407.5,272 418.2,272 418.2,294.8" fill="none" stroke="#161616" stroke-width="1" stroke-linejoin="round" stroke-linejoin="miter"/>
<text x="412.85" y="272.19" font-size="7.6" text-anchor="middle" fill="#1c1c1c" font-weight="normal" font-style="normal" stroke="#1c1c1c" stroke-width="0.35" >**</text>
<line x1="343" y1="222.5" x2="343" y2="307.1" stroke="#161616" stroke-width="1.3" />
<line x1="342.4" y1="306.4" x2="425.4" y2="306.4" stroke="#161616" stroke-width="1.3" />
<line x1="339" y1="225.2" x2="343" y2="225.2" stroke="#161616" stroke-width="1" />
<text x="335.9" y="228.15" font-size="8.2" text-anchor="end" fill="#1c1c1c" font-weight="normal" font-style="normal" stroke="#1c1c1c" stroke-width="0.1" >150</text>
<line x1="339" y1="252.4" x2="343" y2="252.4" stroke="#161616" stroke-width="1" />
<text x="335.9" y="255.35" font-size="8.2" text-anchor="end" fill="#1c1c1c" font-weight="normal" font-style="normal" stroke="#1c1c1c" stroke-width="0.1" >100</text>
<line x1="339" y1="279.6" x2="343" y2="279.6" stroke="#161616" stroke-width="1" />
<text x="335.9" y="282.55" font-size="8.2" text-anchor="end" fill="#1c1c1c" font-weight="normal" font-style="normal" stroke="#1c1c1c" stroke-width="0.1" >50</text>
<line x1="339" y1="306.5" x2="343" y2="306.5" stroke="#161616" stroke-width="1" />
<text x="335.9" y="309.45" font-size="8.2" text-anchor="end" fill="#1c1c1c" font-weight="normal" font-style="normal" stroke="#1c1c1c" stroke-width="0.1" >0</text>
<line x1="355.8" y1="306.5" x2="355.8" y2="310.3" stroke="#161616" stroke-width="1" />
<line x1="384.6" y1="306.5" x2="384.6" y2="310.3" stroke="#161616" stroke-width="1" />
<line x1="412.9" y1="306.5" x2="412.9" y2="310.3" stroke="#161616" stroke-width="1" />
<text x="356" y="321.5" font-size="7.8" text-anchor="middle" fill="#1c1c1c" font-weight="normal" font-style="normal" stroke="#1c1c1c" stroke-width="0.1" >Basal</text>
<text x="384.4" y="321.5" font-size="7.8" text-anchor="middle" fill="#1c1c1c" font-weight="normal" font-style="normal" stroke="#1c1c1c" stroke-width="0.1" >Max</text>
<text x="412.8" y="321.5" font-size="7.8" text-anchor="middle" fill="#1c1c1c" font-weight="normal" font-style="normal" stroke="#1c1c1c" stroke-width="0.1" >ATP</text>
<text x="314.9" y="264.4" font-size="10" text-anchor="middle" fill="#1c1c1c" font-weight="bold" font-style="normal" textLength="53" lengthAdjust="spacingAndGlyphs" transform="rotate(-90 314.9 264.4)" stroke="#1c1c1c" stroke-width="0.15" >OCR (pmol/min)</text>
<circle cx="352.6" cy="334.8" r="1.9" fill="#1d5a97" />
<text x="358" y="337.5" font-size="8.4" text-anchor="start" fill="#1c1c1c" font-weight="normal" font-style="normal" stroke="#1c1c1c" stroke-width="0.1" ><tspan font-style="italic">Il6</tspan><tspan font-size="5.21" dy="-3.53" font-style="italic">fl/fl</tspan></text>
<circle cx="385" cy="334.8" r="1.9" fill="#cd8440" />
<text x="390.5" y="337.5" font-size="8.4" text-anchor="start" fill="#1c1c1c" font-weight="normal" font-style="normal" stroke="#1c1c1c" stroke-width="0.1" ><tspan font-style="italic">Il6</tspan><tspan font-size="5.21" dy="2.52" font-style="italic">Prx1</tspan><tspan font-size="5.21" dy="-6.3" dx="1.68">−/−</tspan></text>
<text x="9.9" y="364.9" font-size="15.4" text-anchor="start" fill="#111" font-weight="bold" font-style="normal" stroke="#111" stroke-width="0.1" >E</text>
<path d="M60.6,448C60.82,448.32 61.38,449.36 62,450C62.62,450.64 63.7,451.49 64.5,452C65.3,452.51 66.12,453.1 67,453.2C67.88,453.3 69.2,453.59 70,452.6C70.8,451.61 71.36,449.66 72,447C72.64,444.34 73.36,439.36 74,436C74.64,432.64 75.31,428.43 76,426C76.69,423.57 77.66,421.36 78.3,420.8C78.94,420.24 79.39,421.8 80,422.5C80.61,423.2 81.46,426.24 82.1,425.2C82.74,424.16 83.38,418.46 84,416C84.62,413.54 85.36,410.12 86,409.8C86.64,409.48 87.36,411.89 88,414C88.64,416.11 89.36,419.48 90,423C90.64,426.52 91.36,432.16 92,436C92.64,439.84 93.28,444.25 94,447C94.72,449.75 96.1,452.21 96.5,453.2L60.6,453.2Z" stroke="#9a9a9a" fill="#e9e9eb" stroke-width="0.8" />
<path d="M114,453.2C114.56,452.53 116.48,451.03 117.5,449C118.52,446.97 119.76,442.9 120.4,440.5C121.04,438.1 121.15,437.68 121.5,434C121.85,430.32 122.25,423.58 122.6,417.5C122.95,411.42 123.41,401.52 123.7,396C123.99,390.48 124.19,386.14 124.4,383C124.61,379.86 124.76,375.6 125,376.4C125.24,377.2 125.58,380.54 125.9,388C126.22,395.46 126.66,413.88 127,423C127.34,432.12 127.71,440.2 128,445C128.29,449.8 128.67,451.72 128.8,453" stroke="#e2b183" fill="none" stroke-width="1.1" />
<path d="M114,453.2C114.32,452.53 115.33,450.47 116,449C116.67,447.53 117.5,445.6 118.2,444C118.9,442.4 119.76,441.24 120.4,439C121.04,436.76 121.7,434 122.2,430C122.7,426 123.12,419.12 123.5,414C123.88,408.88 124.26,402.16 124.6,398C124.94,393.84 125.22,390.32 125.6,388C125.98,385.68 126.62,384.3 127,383.5C127.38,382.7 127.68,381.64 128,383C128.32,384.36 128.68,386.08 129,392C129.32,397.92 129.68,411.68 130,420C130.32,428.32 130.71,438.72 131,444C131.29,449.28 131.67,451.56 131.8,453" stroke="#555a60" fill="none" stroke-width="0.8" />
<path d="M114.3,452.8C114.57,452.24 115.38,450.74 116,449.3C116.62,447.86 117.5,445.38 118.2,443.8C118.9,442.22 119.7,441.34 120.4,439.4C121.1,437.46 121.99,435.2 122.6,431.7C123.21,428.2 123.77,422.59 124.2,417.5C124.63,412.41 124.95,404.83 125.3,399.9C125.65,394.97 126.06,389.48 126.4,386.7C126.74,383.92 127.13,383.32 127.4,382.5C127.67,381.68 127.81,380.4 128.1,381.6C128.39,382.8 128.85,384.26 129.2,390C129.55,395.74 129.95,409.07 130.3,417.5C130.65,425.93 131.08,437.02 131.4,442.7C131.72,448.38 132.16,451.35 132.3,453" stroke="#5b88b8" fill="none" stroke-width="1.1" />
<rect x="60.4" y="372.6" width="80.8" height="80.8" fill="none" stroke="#161616" stroke-width="1.3"/>
<line x1="56.2" y1="375.9" x2="60.4" y2="375.9" stroke="#161616" stroke-width="1" />
<text x="51.6" y="378.85" font-size="8.2" text-anchor="end" fill="#1c1c1c" font-weight="normal" font-style="normal" stroke="#1c1c1c" stroke-width="0.1" >100</text>
<line x1="56.2" y1="391.4" x2="60.4" y2="391.4" stroke="#161616" stroke-width="1" />
<text x="51.6" y="394.35" font-size="8.2" text-anchor="end" fill="#1c1c1c" font-weight="normal" font-style="normal" stroke="#1c1c1c" stroke-width="0.1" >80</text>
<line x1="56.2" y1="406.9" x2="60.4" y2="406.9" stroke="#161616" stroke-width="1" />
<text x="51.6" y="409.85" font-size="8.2" text-anchor="end" fill="#1c1c1c" font-weight="normal" font-style="normal" stroke="#1c1c1c" stroke-width="0.1" >60</text>
<line x1="56.2" y1="422.4" x2="60.4" y2="422.4" stroke="#161616" stroke-width="1" />
<text x="51.6" y="425.35" font-size="8.2" text-anchor="end" fill="#1c1c1c" font-weight="normal" font-style="normal" stroke="#1c1c1c" stroke-width="0.1" >40</text>
<line x1="56.2" y1="437.9" x2="60.4" y2="437.9" stroke="#161616" stroke-width="1" />
<text x="51.6" y="440.85" font-size="8.2" text-anchor="end" fill="#1c1c1c" font-weight="normal" font-style="normal" stroke="#1c1c1c" stroke-width="0.1" >20</text>
<line x1="56.2" y1="453.4" x2="60.4" y2="453.4" stroke="#161616" stroke-width="1" />
<text x="51.6" y="456.35" font-size="8.2" text-anchor="end" fill="#1c1c1c" font-weight="normal" font-style="normal" stroke="#1c1c1c" stroke-width="0.1" >0</text>
<line x1="58.2" y1="375.9" x2="60.4" y2="375.9" stroke="#161616" stroke-width="0.8" />
<line x1="58.2" y1="379.77" x2="60.4" y2="379.77" stroke="#161616" stroke-width="0.8" />
<line x1="58.2" y1="383.65" x2="60.4" y2="383.65" stroke="#161616" stroke-width="0.8" />
<line x1="58.2" y1="387.52" x2="60.4" y2="387.52" stroke="#161616" stroke-width="0.8" />
<line x1="58.2" y1="391.4" x2="60.4" y2="391.4" stroke="#161616" stroke-width="0.8" />
<line x1="58.2" y1="395.27" x2="60.4" y2="395.27" stroke="#161616" stroke-width="0.8" />
<line x1="58.2" y1="399.15" x2="60.4" y2="399.15" stroke="#161616" stroke-width="0.8" />
<line x1="58.2" y1="403.02" x2="60.4" y2="403.02" stroke="#161616" stroke-width="0.8" />
<line x1="58.2" y1="406.9" x2="60.4" y2="406.9" stroke="#161616" stroke-width="0.8" />
<line x1="58.2" y1="410.77" x2="60.4" y2="410.77" stroke="#161616" stroke-width="0.8" />
<line x1="58.2" y1="414.65" x2="60.4" y2="414.65" stroke="#161616" stroke-width="0.8" />
<line x1="58.2" y1="418.52" x2="60.4" y2="418.52" stroke="#161616" stroke-width="0.8" />
<line x1="58.2" y1="422.4" x2="60.4" y2="422.4" stroke="#161616" stroke-width="0.8" />
<line x1="58.2" y1="426.27" x2="60.4" y2="426.27" stroke="#161616" stroke-width="0.8" />
<line x1="58.2" y1="430.15" x2="60.4" y2="430.15" stroke="#161616" stroke-width="0.8" />
<line x1="58.2" y1="434.02" x2="60.4" y2="434.02" stroke="#161616" stroke-width="0.8" />
<line x1="58.2" y1="437.9" x2="60.4" y2="437.9" stroke="#161616" stroke-width="0.8" />
<line x1="58.2" y1="441.77" x2="60.4" y2="441.77" stroke="#161616" stroke-width="0.8" />
<line x1="58.2" y1="445.65" x2="60.4" y2="445.65" stroke="#161616" stroke-width="0.8" />
<line x1="58.2" y1="449.52" x2="60.4" y2="449.52" stroke="#161616" stroke-width="0.8" />
<line x1="62.4" y1="453.4" x2="62.4" y2="455.2" stroke="#161616" stroke-width="0.7" />
<line x1="65" y1="453.4" x2="65" y2="455.2" stroke="#161616" stroke-width="0.7" />
<line x1="67.6" y1="453.4" x2="67.6" y2="455.2" stroke="#161616" stroke-width="0.7" />
<line x1="70.2" y1="453.4" x2="70.2" y2="455.2" stroke="#161616" stroke-width="0.7" />
<line x1="72.8" y1="453.4" x2="72.8" y2="455.2" stroke="#161616" stroke-width="0.7" />
<line x1="75.4" y1="453.4" x2="75.4" y2="455.2" stroke="#161616" stroke-width="0.7" />
<line x1="78" y1="453.4" x2="78" y2="455.2" stroke="#161616" stroke-width="0.7" />
<line x1="80.6" y1="453.4" x2="80.6" y2="455.2" stroke="#161616" stroke-width="0.7" />
<line x1="83.2" y1="453.4" x2="83.2" y2="455.2" stroke="#161616" stroke-width="0.7" />
<line x1="85.8" y1="453.4" x2="85.8" y2="455.2" stroke="#161616" stroke-width="0.7" />
<line x1="88.4" y1="453.4" x2="88.4" y2="455.2" stroke="#161616" stroke-width="0.7" />
<line x1="91" y1="453.4" x2="91" y2="455.2" stroke="#161616" stroke-width="0.7" />
<line x1="93.6" y1="453.4" x2="93.6" y2="455.2" stroke="#161616" stroke-width="0.7" />
<line x1="96.2" y1="453.4" x2="96.2" y2="455.2" stroke="#161616" stroke-width="0.7" />
<line x1="98.8" y1="453.4" x2="98.8" y2="455.2" stroke="#161616" stroke-width="0.7" />
<line x1="101.4" y1="453.4" x2="101.4" y2="455.2" stroke="#161616" stroke-width="0.7" />
<line x1="104" y1="453.4" x2="104" y2="455.2" stroke="#161616" stroke-width="0.7" />
<line x1="106.6" y1="453.4" x2="106.6" y2="455.2" stroke="#161616" stroke-width="0.7" />
<line x1="109.2" y1="453.4" x2="109.2" y2="455.2" stroke="#161616" stroke-width="0.7" />
<line x1="111.8" y1="453.4" x2="111.8" y2="455.2" stroke="#161616" stroke-width="0.7" />
<line x1="114.4" y1="453.4" x2="114.4" y2="455.2" stroke="#161616" stroke-width="0.7" />
<line x1="117" y1="453.4" x2="117" y2="455.2" stroke="#161616" stroke-width="0.7" />
<line x1="119.6" y1="453.4" x2="119.6" y2="455.2" stroke="#161616" stroke-width="0.7" />
<line x1="122.2" y1="453.4" x2="122.2" y2="455.2" stroke="#161616" stroke-width="0.7" />
<line x1="124.8" y1="453.4" x2="124.8" y2="455.2" stroke="#161616" stroke-width="0.7" />
<line x1="127.4" y1="453.4" x2="127.4" y2="455.2" stroke="#161616" stroke-width="0.7" />
<line x1="130" y1="453.4" x2="130" y2="455.2" stroke="#161616" stroke-width="0.7" />
<line x1="132.6" y1="453.4" x2="132.6" y2="455.2" stroke="#161616" stroke-width="0.7" />
<line x1="135.2" y1="453.4" x2="135.2" y2="455.2" stroke="#161616" stroke-width="0.7" />
<line x1="137.8" y1="453.4" x2="137.8" y2="455.2" stroke="#161616" stroke-width="0.7" />
<line x1="140.4" y1="453.4" x2="140.4" y2="455.2" stroke="#161616" stroke-width="0.7" />
<line x1="60.4" y1="453.4" x2="60.4" y2="457.2" stroke="#161616" stroke-width="1" />
<text x="60.4" y="468.5" font-size="8.2" text-anchor="middle" fill="#1c1c1c" font-weight="normal" font-style="normal" stroke="#1c1c1c" stroke-width="0.1" >10<tspan font-size="5.08" dy="-3.44">−1</tspan></text>
<line x1="73.85" y1="453.4" x2="73.85" y2="457.2" stroke="#161616" stroke-width="1" />
<text x="73.85" y="468.5" font-size="8.2" text-anchor="middle" fill="#1c1c1c" font-weight="normal" font-style="normal" stroke="#1c1c1c" stroke-width="0.1" >10<tspan font-size="5.08" dy="-3.44">0</tspan></text>
<line x1="87.3" y1="453.4" x2="87.3" y2="457.2" stroke="#161616" stroke-width="1" />
<text x="87.3" y="468.5" font-size="8.2" text-anchor="middle" fill="#1c1c1c" font-weight="normal" font-style="normal" stroke="#1c1c1c" stroke-width="0.1" >10<tspan font-size="5.08" dy="-3.44">1</tspan></text>
<line x1="100.75" y1="453.4" x2="100.75" y2="457.2" stroke="#161616" stroke-width="1" />
<text x="100.75" y="468.5" font-size="8.2" text-anchor="middle" fill="#1c1c1c" font-weight="normal" font-style="normal" stroke="#1c1c1c" stroke-width="0.1" >10<tspan font-size="5.08" dy="-3.44">2</tspan></text>
<line x1="114.2" y1="453.4" x2="114.2" y2="457.2" stroke="#161616" stroke-width="1" />
<text x="114.2" y="468.5" font-size="8.2" text-anchor="middle" fill="#1c1c1c" font-weight="normal" font-style="normal" stroke="#1c1c1c" stroke-width="0.1" >10<tspan font-size="5.08" dy="-3.44">3</tspan></text>
<line x1="127.65" y1="453.4" x2="127.65" y2="457.2" stroke="#161616" stroke-width="1" />
<text x="127.65" y="468.5" font-size="8.2" text-anchor="middle" fill="#1c1c1c" font-weight="normal" font-style="normal" stroke="#1c1c1c" stroke-width="0.1" >10<tspan font-size="5.08" dy="-3.44">4</tspan></text>
<line x1="141.1" y1="453.4" x2="141.1" y2="457.2" stroke="#161616" stroke-width="1" />
<text x="141.1" y="468.5" font-size="8.2" text-anchor="middle" fill="#1c1c1c" font-weight="normal" font-style="normal" stroke="#1c1c1c" stroke-width="0.1" >10<tspan font-size="5.08" dy="-3.44">5</tspan></text>
<text x="100.6" y="479.2" font-size="9.6" text-anchor="middle" fill="#1c1c1c" font-weight="bold" font-style="normal" textLength="69.2" lengthAdjust="spacingAndGlyphs" stroke="#1c1c1c" stroke-width="0.15" >MitoTracker deep red</text>
<line x1="32.8" y1="474" x2="32.8" y2="454" stroke="#161616" stroke-width="0.9" />
<polygon points="30.9,455.2 34.7,455.2 32.8,451" fill="#161616" />
<line x1="47.2" y1="476" x2="55.2" y2="476" stroke="#161616" stroke-width="0.9" />
<polygon points="54,474.1 54,477.9 58.2,476" fill="#161616" />
<text x="33.6" y="413" font-size="10" text-anchor="middle" fill="#1c1c1c" font-weight="bold" font-style="normal" textLength="65" lengthAdjust="spacingAndGlyphs" transform="rotate(-90 33.6 413)" stroke="#1c1c1c" stroke-width="0.15" >Normalized to mode</text>
<line x1="58" y1="495.6" x2="72" y2="495.6" stroke="#7d93b0" stroke-width="1.4" />
<text x="75.4" y="498.5" font-size="7.8" text-anchor="start" fill="#1c1c1c" font-weight="normal" font-style="normal" stroke="#1c1c1c" stroke-width="0.1" ><tspan font-style="italic">Il6</tspan><tspan font-size="4.84" dy="-3.28" font-style="italic">fl/fl</tspan></text>
<line x1="96" y1="495.6" x2="111" y2="495.6" stroke="#e2c29e" stroke-width="1.4" />
<text x="114.6" y="498.5" font-size="7.8" text-anchor="start" fill="#1c1c1c" font-weight="normal" font-style="normal" stroke="#1c1c1c" stroke-width="0.1" ><tspan font-style="italic">Il6</tspan><tspan font-size="4.84" dy="2.34" font-style="italic">Prx1</tspan><tspan font-size="4.84" dy="-5.85" dx="1.56">−/−</tspan></text>
<rect x="190.3" y="400.3" width="7.7" height="44.8" fill="#b3c9de" />
<rect x="203" y="407" width="8.2" height="38.1" fill="#f2d6bf" />
<line x1="185.1" y1="381" x2="185.1" y2="445.7" stroke="#161616" stroke-width="1.3" />
<line x1="184.5" y1="445.1" x2="220" y2="445.1" stroke="#161616" stroke-width="1.3" />
<line x1="181.1" y1="383.8" x2="185.1" y2="383.8" stroke="#161616" stroke-width="1" />
<text x="178.2" y="386.75" font-size="8.2" text-anchor="end" fill="#1c1c1c" font-weight="normal" font-style="normal" stroke="#1c1c1c" stroke-width="0.1" >25</text>
<line x1="181.1" y1="396.1" x2="185.1" y2="396.1" stroke="#161616" stroke-width="1" />
<text x="178.2" y="399.05" font-size="8.2" text-anchor="end" fill="#1c1c1c" font-weight="normal" font-style="normal" stroke="#1c1c1c" stroke-width="0.1" >20</text>
<line x1="181.1" y1="408.4" x2="185.1" y2="408.4" stroke="#161616" stroke-width="1" />
<text x="178.2" y="411.35" font-size="8.2" text-anchor="end" fill="#1c1c1c" font-weight="normal" font-style="normal" stroke="#1c1c1c" stroke-width="0.1" >15</text>
<line x1="181.1" y1="420.7" x2="185.1" y2="420.7" stroke="#161616" stroke-width="1" />
<text x="178.2" y="423.65" font-size="8.2" text-anchor="end" fill="#1c1c1c" font-weight="normal" font-style="normal" stroke="#1c1c1c" stroke-width="0.1" >10</text>
<line x1="181.1" y1="433" x2="185.1" y2="433" stroke="#161616" stroke-width="1" />
<text x="178.2" y="435.95" font-size="8.2" text-anchor="end" fill="#1c1c1c" font-weight="normal" font-style="normal" stroke="#1c1c1c" stroke-width="0.1" >5</text>
<line x1="181.1" y1="445.1" x2="185.1" y2="445.1" stroke="#161616" stroke-width="1" />
<text x="178.2" y="448.05" font-size="8.2" text-anchor="end" fill="#1c1c1c" font-weight="normal" font-style="normal" stroke="#1c1c1c" stroke-width="0.1" >0</text>
<line x1="194.2" y1="397.6" x2="194.2" y2="401.8" stroke="#1d5a97" stroke-width="0.8" />
<line x1="192.95" y1="397.6" x2="195.45" y2="397.6" stroke="#1d5a97" stroke-width="0.8" />
<line x1="192.95" y1="401.8" x2="195.45" y2="401.8" stroke="#1d5a97" stroke-width="0.8" />
<circle cx="192.2" cy="399.5" r="1.2" fill="#1d5a97" />
<circle cx="194.2" cy="398.5" r="1.2" fill="#1d5a97" />
<circle cx="196.2" cy="398.3" r="1.2" fill="#1d5a97" />
<circle cx="192" cy="401.2" r="1.2" fill="#1d5a97" />
<circle cx="194.6" cy="400.6" r="1.2" fill="#1d5a97" />
<circle cx="196.4" cy="399.7" r="1.2" fill="#1d5a97" />
<line x1="207.2" y1="404" x2="207.2" y2="412.5" stroke="#cd8440" stroke-width="0.8" />
<line x1="205.95" y1="404" x2="208.45" y2="404" stroke="#cd8440" stroke-width="0.8" />
<line x1="205.95" y1="412.5" x2="208.45" y2="412.5" stroke="#cd8440" stroke-width="0.8" />
<circle cx="205.2" cy="405" r="1.1" fill="#cd8440" />
<circle cx="207.2" cy="406.5" r="1.1" fill="#cd8440" />
<circle cx="209.2" cy="405.5" r="1.1" fill="#cd8440" />
<circle cx="207.2" cy="409" r="1.1" fill="#cd8440" />
<circle cx="207.4" cy="411" r="1.1" fill="#cd8440" />
<polyline points="193.8,393 193.8,390 207.7,390 207.7,402.3" fill="none" stroke="#161616" stroke-width="1" stroke-linejoin="round" stroke-linejoin="miter"/>
<text x="200.75" y="390.29" font-size="7.6" text-anchor="middle" fill="#1c1c1c" font-weight="normal" font-style="normal" stroke="#1c1c1c" stroke-width="0.35" >***</text>
<line x1="193.8" y1="445.1" x2="193.8" y2="448.7" stroke="#161616" stroke-width="1" />
<line x1="207.2" y1="445.1" x2="207.2" y2="448.7" stroke="#161616" stroke-width="1" />
<text x="162" y="413.3" font-size="10.4" text-anchor="middle" fill="#1c1c1c" font-weight="bold" font-style="normal" textLength="77" lengthAdjust="spacingAndGlyphs" transform="rotate(-90 162 413.3)" stroke="#1c1c1c" stroke-width="0.15" >MitoTracker MFI (×10<tspan font-size="6.4" dy="-4">3</tspan><tspan dy="4">)</tspan></text>
<text x="197.9" y="457.8" font-size="7.4" text-anchor="end" fill="#1c1c1c" font-weight="normal" font-style="normal" transform="rotate(-45 197.9 457.8)" stroke="#1c1c1c" stroke-width="0.1" ><tspan font-style="italic">Il6</tspan><tspan font-size="4.59" dy="-3.11" font-style="italic">fl/fl</tspan></text>
<text x="213.2" y="458.2" font-size="7.4" text-anchor="end" fill="#1c1c1c" font-weight="normal" font-style="normal" transform="rotate(-45 213.2 458.2)" stroke="#1c1c1c" stroke-width="0.1" ><tspan font-style="italic">Il6</tspan><tspan font-size="5.48" dy="2.22" font-style="italic">Prx1</tspan><tspan font-size="4.59" dy="-5.55" dx="1.48">−/−</tspan></text>
<text x="277.6" y="364.9" font-size="15.4" text-anchor="start" fill="#111" font-weight="bold" font-style="normal" stroke="#111" stroke-width="0.1" >F</text>
<path d="M326.8,443.9C326.99,444.56 327.5,446.69 328,448C328.5,449.31 329.2,452.23 329.9,452.1C330.6,451.97 331.62,448.77 332.4,447.2C333.18,445.63 334.02,443.74 334.8,442.3C335.58,440.86 336.64,439.05 337.3,438.2C337.96,437.35 338.47,437.06 338.9,437C339.33,436.94 339.62,437.74 340,437.8C340.38,437.86 340.82,438.33 341.3,437.4C341.78,436.47 342.47,434.35 343,432C343.53,429.65 344.14,424.84 344.6,422.7C345.06,420.56 345.52,418.87 345.9,418.6C346.28,418.33 346.55,419.82 347,421C347.45,422.18 348.17,424.64 348.7,426C349.23,427.36 349.77,427.68 350.3,429.5C350.83,431.32 351.47,434.57 352,437.4C352.53,440.23 353.09,444.16 353.6,447.2C354.11,450.24 354.94,454.93 355.2,456.4L326.8,456.4Z" stroke="#a0a0a0" fill="#e9e9eb" stroke-width="0.8" />
<path d="M367.5,456.4C367.98,455.78 369.72,453.72 370.5,452.5C371.28,451.28 371.7,451.22 372.4,448.8C373.1,446.38 374.24,441.85 374.9,437.4C375.56,432.95 376.07,426.23 376.5,421C376.93,415.77 377.22,409.4 377.6,404.7C377.98,400 378.55,394.08 378.9,391.6C379.25,389.12 379.48,388.94 379.8,389.2C380.12,389.46 380.52,391.25 380.9,393.2C381.28,395.15 381.74,398.52 382.2,401.4C382.66,404.28 383.27,407.54 383.8,411.2C384.33,414.86 384.97,420.11 385.5,424.3C386.03,428.49 386.59,433.74 387.1,437.4C387.61,441.06 388.17,444.85 388.7,447.2C389.23,449.55 389.34,450.93 390.4,452.1C391.46,453.27 393.48,453.89 395.3,454.5C397.12,455.11 400.25,455.6 401.8,455.9C403.35,456.2 404.49,456.32 405,456.4" stroke="#e2a56e" fill="none" stroke-width="1.1" />
<path d="M368,456.4C368.4,455.86 369.8,454.22 370.5,453C371.2,451.78 371.57,451.3 372.4,448.8C373.23,446.3 374.92,440.79 375.7,437.4C376.48,434.01 376.79,430.22 377.3,427.6C377.81,424.98 378.44,424.66 378.9,421C379.36,417.34 379.8,408.22 380.2,404.7C380.6,401.18 381.13,399.66 381.4,399C381.67,398.34 381.64,400.47 381.9,400.6C382.16,400.73 382.7,398.1 383,399.8C383.3,401.5 383.4,407.28 383.8,411.2C384.2,415.12 384.97,420.11 385.5,424.3C386.03,428.49 386.54,433.61 387.1,437.4C387.66,441.19 388.22,445.58 389,448C389.78,450.42 390.56,451.38 392,452.5C393.44,453.62 395.92,454.38 398,455C400.08,455.62 403.88,456.18 405,456.4" stroke="#4f87c0" fill="none" stroke-width="1.1" />
<path d="M368.5,456.4C368.9,455.78 370.12,453.72 371,452.5C371.88,451.28 372.99,451.74 374,448.8C375.01,445.86 376.52,439.59 377.3,434.1C378.08,428.61 378.37,420.64 378.9,414.5C379.43,408.36 380.2,398.58 380.6,395.7C381,392.82 381.1,395.72 381.4,396.5C381.7,397.28 382.12,398.5 382.5,400.6C382.88,402.7 383.32,406.34 383.8,409.6C384.28,412.86 384.97,416.82 385.5,421C386.03,425.18 386.44,431.25 387.1,435.7C387.76,440.15 388.54,446.05 389.6,448.8C390.66,451.55 392,451.99 393.7,452.9C395.4,453.81 398.39,454 400.2,454.5C402.01,455 404.23,455.76 405,456" stroke="#444" fill="none" stroke-width="0.8" />
<rect x="326.5" y="375.7" width="81.1" height="80.8" fill="none" stroke="#161616" stroke-width="1.3"/>
<line x1="322.3" y1="379.6" x2="326.5" y2="379.6" stroke="#161616" stroke-width="1" />
<text x="318.6" y="382.55" font-size="8.2" text-anchor="end" fill="#1c1c1c" font-weight="normal" font-style="normal" stroke="#1c1c1c" stroke-width="0.1" >100</text>
<line x1="322.3" y1="395" x2="326.5" y2="395" stroke="#161616" stroke-width="1" />
<text x="318.6" y="397.95" font-size="8.2" text-anchor="end" fill="#1c1c1c" font-weight="normal" font-style="normal" stroke="#1c1c1c" stroke-width="0.1" >80</text>
<line x1="322.3" y1="410.4" x2="326.5" y2="410.4" stroke="#161616" stroke-width="1" />
<text x="318.6" y="413.35" font-size="8.2" text-anchor="end" fill="#1c1c1c" font-weight="normal" font-style="normal" stroke="#1c1c1c" stroke-width="0.1" >60</text>
<line x1="322.3" y1="425.8" x2="326.5" y2="425.8" stroke="#161616" stroke-width="1" />
<text x="318.6" y="428.75" font-size="8.2" text-anchor="end" fill="#1c1c1c" font-weight="normal" font-style="normal" stroke="#1c1c1c" stroke-width="0.1" >40</text>
<line x1="322.3" y1="441.2" x2="326.5" y2="441.2" stroke="#161616" stroke-width="1" />
<text x="318.6" y="444.15" font-size="8.2" text-anchor="end" fill="#1c1c1c" font-weight="normal" font-style="normal" stroke="#1c1c1c" stroke-width="0.1" >20</text>
<line x1="322.3" y1="456.6" x2="326.5" y2="456.6" stroke="#161616" stroke-width="1" />
<text x="318.6" y="459.55" font-size="8.2" text-anchor="end" fill="#1c1c1c" font-weight="normal" font-style="normal" stroke="#1c1c1c" stroke-width="0.1" >0</text>
<line x1="324.3" y1="379.6" x2="326.5" y2="379.6" stroke="#161616" stroke-width="0.8" />
<line x1="324.3" y1="383.45" x2="326.5" y2="383.45" stroke="#161616" stroke-width="0.8" />
<line x1="324.3" y1="387.3" x2="326.5" y2="387.3" stroke="#161616" stroke-width="0.8" />
<line x1="324.3" y1="391.15" x2="326.5" y2="391.15" stroke="#161616" stroke-width="0.8" />
<line x1="324.3" y1="395" x2="326.5" y2="395" stroke="#161616" stroke-width="0.8" />
<line x1="324.3" y1="398.85" x2="326.5" y2="398.85" stroke="#161616" stroke-width="0.8" />
<line x1="324.3" y1="402.7" x2="326.5" y2="402.7" stroke="#161616" stroke-width="0.8" />
<line x1="324.3" y1="406.55" x2="326.5" y2="406.55" stroke="#161616" stroke-width="0.8" />
<line x1="324.3" y1="410.4" x2="326.5" y2="410.4" stroke="#161616" stroke-width="0.8" />
<line x1="324.3" y1="414.25" x2="326.5" y2="414.25" stroke="#161616" stroke-width="0.8" />
<line x1="324.3" y1="418.1" x2="326.5" y2="418.1" stroke="#161616" stroke-width="0.8" />
<line x1="324.3" y1="421.95" x2="326.5" y2="421.95" stroke="#161616" stroke-width="0.8" />
<line x1="324.3" y1="425.8" x2="326.5" y2="425.8" stroke="#161616" stroke-width="0.8" />
<line x1="324.3" y1="429.65" x2="326.5" y2="429.65" stroke="#161616" stroke-width="0.8" />
<line x1="324.3" y1="433.5" x2="326.5" y2="433.5" stroke="#161616" stroke-width="0.8" />
<line x1="324.3" y1="437.35" x2="326.5" y2="437.35" stroke="#161616" stroke-width="0.8" />
<line x1="324.3" y1="441.2" x2="326.5" y2="441.2" stroke="#161616" stroke-width="0.8" />
<line x1="324.3" y1="445.05" x2="326.5" y2="445.05" stroke="#161616" stroke-width="0.8" />
<line x1="324.3" y1="448.9" x2="326.5" y2="448.9" stroke="#161616" stroke-width="0.8" />
<line x1="324.3" y1="452.75" x2="326.5" y2="452.75" stroke="#161616" stroke-width="0.8" />
<line x1="328.5" y1="456.5" x2="328.5" y2="458.3" stroke="#161616" stroke-width="0.7" />
<line x1="331.1" y1="456.5" x2="331.1" y2="458.3" stroke="#161616" stroke-width="0.7" />
<line x1="333.7" y1="456.5" x2="333.7" y2="458.3" stroke="#161616" stroke-width="0.7" />
<line x1="336.3" y1="456.5" x2="336.3" y2="458.3" stroke="#161616" stroke-width="0.7" />
<line x1="338.9" y1="456.5" x2="338.9" y2="458.3" stroke="#161616" stroke-width="0.7" />
<line x1="341.5" y1="456.5" x2="341.5" y2="458.3" stroke="#161616" stroke-width="0.7" />
<line x1="344.1" y1="456.5" x2="344.1" y2="458.3" stroke="#161616" stroke-width="0.7" />
<line x1="346.7" y1="456.5" x2="346.7" y2="458.3" stroke="#161616" stroke-width="0.7" />
<line x1="349.3" y1="456.5" x2="349.3" y2="458.3" stroke="#161616" stroke-width="0.7" />
<line x1="351.9" y1="456.5" x2="351.9" y2="458.3" stroke="#161616" stroke-width="0.7" />
<line x1="354.5" y1="456.5" x2="354.5" y2="458.3" stroke="#161616" stroke-width="0.7" />
<line x1="357.1" y1="456.5" x2="357.1" y2="458.3" stroke="#161616" stroke-width="0.7" />
<line x1="359.7" y1="456.5" x2="359.7" y2="458.3" stroke="#161616" stroke-width="0.7" />
<line x1="362.3" y1="456.5" x2="362.3" y2="458.3" stroke="#161616" stroke-width="0.7" />
<line x1="364.9" y1="456.5" x2="364.9" y2="458.3" stroke="#161616" stroke-width="0.7" />
<line x1="367.5" y1="456.5" x2="367.5" y2="458.3" stroke="#161616" stroke-width="0.7" />
<line x1="370.1" y1="456.5" x2="370.1" y2="458.3" stroke="#161616" stroke-width="0.7" />
<line x1="372.7" y1="456.5" x2="372.7" y2="458.3" stroke="#161616" stroke-width="0.7" />
<line x1="375.3" y1="456.5" x2="375.3" y2="458.3" stroke="#161616" stroke-width="0.7" />
<line x1="377.9" y1="456.5" x2="377.9" y2="458.3" stroke="#161616" stroke-width="0.7" />
<line x1="380.5" y1="456.5" x2="380.5" y2="458.3" stroke="#161616" stroke-width="0.7" />
<line x1="383.1" y1="456.5" x2="383.1" y2="458.3" stroke="#161616" stroke-width="0.7" />
<line x1="385.7" y1="456.5" x2="385.7" y2="458.3" stroke="#161616" stroke-width="0.7" />
<line x1="388.3" y1="456.5" x2="388.3" y2="458.3" stroke="#161616" stroke-width="0.7" />
<line x1="390.9" y1="456.5" x2="390.9" y2="458.3" stroke="#161616" stroke-width="0.7" />
<line x1="393.5" y1="456.5" x2="393.5" y2="458.3" stroke="#161616" stroke-width="0.7" />
<line x1="396.1" y1="456.5" x2="396.1" y2="458.3" stroke="#161616" stroke-width="0.7" />
<line x1="398.7" y1="456.5" x2="398.7" y2="458.3" stroke="#161616" stroke-width="0.7" />
<line x1="401.3" y1="456.5" x2="401.3" y2="458.3" stroke="#161616" stroke-width="0.7" />
<line x1="403.9" y1="456.5" x2="403.9" y2="458.3" stroke="#161616" stroke-width="0.7" />
<line x1="406.5" y1="456.5" x2="406.5" y2="458.3" stroke="#161616" stroke-width="0.7" />
<line x1="326" y1="456.6" x2="326" y2="460.4" stroke="#161616" stroke-width="1" />
<text x="326.5" y="472" font-size="8.2" text-anchor="middle" fill="#1c1c1c" font-weight="normal" font-style="normal" stroke="#1c1c1c" stroke-width="0.1" >10<tspan font-size="5.08" dy="-3.44">1</tspan></text>
<line x1="350.6" y1="456.6" x2="350.6" y2="460.4" stroke="#161616" stroke-width="1" />
<text x="351.1" y="472" font-size="8.2" text-anchor="middle" fill="#1c1c1c" font-weight="normal" font-style="normal" stroke="#1c1c1c" stroke-width="0.1" >10<tspan font-size="5.08" dy="-3.44">2</tspan></text>
<line x1="375.2" y1="456.6" x2="375.2" y2="460.4" stroke="#161616" stroke-width="1" />
<text x="375.7" y="472" font-size="8.2" text-anchor="middle" fill="#1c1c1c" font-weight="normal" font-style="normal" stroke="#1c1c1c" stroke-width="0.1" >10<tspan font-size="5.08" dy="-3.44">3</tspan></text>
<line x1="399.8" y1="456.6" x2="399.8" y2="460.4" stroke="#161616" stroke-width="1" />
<text x="400.3" y="472" font-size="8.2" text-anchor="middle" fill="#1c1c1c" font-weight="normal" font-style="normal" stroke="#1c1c1c" stroke-width="0.1" >10<tspan font-size="5.08" dy="-3.44">4</tspan></text>
<text x="299.8" y="416.4" font-size="10" text-anchor="middle" fill="#1c1c1c" font-weight="bold" font-style="normal" textLength="64.2" lengthAdjust="spacingAndGlyphs" transform="rotate(-90 299.8 416.4)" stroke="#1c1c1c" stroke-width="0.15" >Normalized to mode</text>
<line x1="299.2" y1="477.3" x2="299.2" y2="456" stroke="#161616" stroke-width="0.9" />
<polygon points="297.3,457.2 301.1,457.2 299.2,453" fill="#161616" />
<line x1="307.3" y1="479.2" x2="385" y2="479.2" stroke="#161616" stroke-width="0.9" />
<polygon points="383.8,477.3 383.8,481.1 388,479.2" fill="#161616" />
<text x="388.8" y="482.3" font-size="10" text-anchor="start" fill="#1c1c1c" font-weight="bold" font-style="normal" textLength="21.1" lengthAdjust="spacingAndGlyphs" stroke="#1c1c1c" stroke-width="0.15" >TMRM</text>
<line x1="324.6" y1="495.8" x2="337.3" y2="495.8" stroke="#7d93b0" stroke-width="1.4" />
<text x="340.8" y="498.7" font-size="7.8" text-anchor="start" fill="#1c1c1c" font-weight="normal" font-style="normal" stroke="#1c1c1c" stroke-width="0.1" ><tspan font-style="italic">Il6</tspan><tspan font-size="4.84" dy="-3.28" font-style="italic">fl/fl</tspan></text>
<line x1="363.8" y1="495.8" x2="377.7" y2="495.8" stroke="#e2c29e" stroke-width="1.4" />
<text x="381" y="498.7" font-size="7.8" text-anchor="start" fill="#1c1c1c" font-weight="normal" font-style="normal" stroke="#1c1c1c" stroke-width="0.1" ><tspan font-style="italic">Il6</tspan><tspan font-size="4.84" dy="2.34" font-style="italic">Prx1</tspan><tspan font-size="4.84" dy="-5.85" dx="1.56">−/−</tspan></text>
<rect x="463.8" y="396.2" width="8.2" height="52.3" fill="#b3c9de" />
<rect x="476.9" y="404.6" width="8.1" height="43.9" fill="#f2d6bf" />
<line x1="458.5" y1="384" x2="458.5" y2="449.1" stroke="#161616" stroke-width="1.3" />
<line x1="457.9" y1="448.5" x2="488.5" y2="448.5" stroke="#161616" stroke-width="1.3" />
<line x1="454.5" y1="386.9" x2="458.5" y2="386.9" stroke="#161616" stroke-width="1" />
<text x="451.7" y="389.85" font-size="8.2" text-anchor="end" fill="#1c1c1c" font-weight="normal" font-style="normal" stroke="#1c1c1c" stroke-width="0.1" >2500</text>
<line x1="454.5" y1="399.2" x2="458.5" y2="399.2" stroke="#161616" stroke-width="1" />
<text x="451.7" y="402.15" font-size="8.2" text-anchor="end" fill="#1c1c1c" font-weight="normal" font-style="normal" stroke="#1c1c1c" stroke-width="0.1" >2000</text>
<line x1="454.5" y1="411.5" x2="458.5" y2="411.5" stroke="#161616" stroke-width="1" />
<text x="451.7" y="414.45" font-size="8.2" text-anchor="end" fill="#1c1c1c" font-weight="normal" font-style="normal" stroke="#1c1c1c" stroke-width="0.1" >1500</text>
<line x1="454.5" y1="423.8" x2="458.5" y2="423.8" stroke="#161616" stroke-width="1" />
<text x="451.7" y="426.75" font-size="8.2" text-anchor="end" fill="#1c1c1c" font-weight="normal" font-style="normal" stroke="#1c1c1c" stroke-width="0.1" >1000</text>
<line x1="454.5" y1="436.1" x2="458.5" y2="436.1" stroke="#161616" stroke-width="1" />
<text x="451.7" y="439.05" font-size="8.2" text-anchor="end" fill="#1c1c1c" font-weight="normal" font-style="normal" stroke="#1c1c1c" stroke-width="0.1" >500</text>
<line x1="454.5" y1="448.5" x2="458.5" y2="448.5" stroke="#161616" stroke-width="1" />
<text x="451.7" y="451.45" font-size="8.2" text-anchor="end" fill="#1c1c1c" font-weight="normal" font-style="normal" stroke="#1c1c1c" stroke-width="0.1" >0</text>
<line x1="468" y1="394.5" x2="468" y2="397.5" stroke="#1d5a97" stroke-width="0.8" />
<line x1="466.75" y1="394.5" x2="469.25" y2="394.5" stroke="#1d5a97" stroke-width="0.8" />
<line x1="466.75" y1="397.5" x2="469.25" y2="397.5" stroke="#1d5a97" stroke-width="0.8" />
<circle cx="465.6" cy="395.5" r="1.2" fill="#1d5a97" />
<circle cx="467.2" cy="396.5" r="1.2" fill="#1d5a97" />
<circle cx="468.8" cy="396.8" r="1.2" fill="#1d5a97" />
<circle cx="470.4" cy="396.5" r="1.2" fill="#1d5a97" />
<circle cx="466.4" cy="397.3" r="1.2" fill="#1d5a97" />
<line x1="481" y1="402.5" x2="481" y2="406" stroke="#cd8440" stroke-width="0.8" />
<line x1="479.75" y1="402.5" x2="482.25" y2="402.5" stroke="#cd8440" stroke-width="0.8" />
<line x1="479.75" y1="406" x2="482.25" y2="406" stroke="#cd8440" stroke-width="0.8" />
<circle cx="479.2" cy="403.5" r="1.1" fill="#cd8440" />
<circle cx="481" cy="404.8" r="1.1" fill="#cd8440" />
<circle cx="482.8" cy="405.2" r="1.1" fill="#cd8440" />
<polyline points="467.7,391.5 467.7,388.5 481.2,388.5 481.2,398.5" fill="none" stroke="#161616" stroke-width="1" stroke-linejoin="round" stroke-linejoin="miter"/>
<text x="474.45" y="388.79" font-size="7.6" text-anchor="middle" fill="#1c1c1c" font-weight="normal" font-style="normal" stroke="#1c1c1c" stroke-width="0.35" >****</text>
<line x1="468" y1="448.5" x2="468" y2="452" stroke="#161616" stroke-width="1" />
<line x1="481" y1="448.5" x2="481" y2="452" stroke="#161616" stroke-width="1" />
<text x="428.8" y="416.3" font-size="10.8" text-anchor="middle" fill="#1c1c1c" font-weight="bold" font-style="normal" textLength="36.9" lengthAdjust="spacingAndGlyphs" transform="rotate(-90 428.8 416.3)" stroke="#1c1c1c" stroke-width="0.15" >TMRM MFI</text>
<text x="472.1" y="461.1" font-size="7.4" text-anchor="end" fill="#1c1c1c" font-weight="normal" font-style="normal" transform="rotate(-45 472.1 461.1)" stroke="#1c1c1c" stroke-width="0.1" ><tspan font-style="italic">Il6</tspan><tspan font-size="4.59" dy="-3.11" font-style="italic">fl/fl</tspan></text>
<text x="487" y="461.5" font-size="7.4" text-anchor="end" fill="#1c1c1c" font-weight="normal" font-style="normal" transform="rotate(-45 487 461.5)" stroke="#1c1c1c" stroke-width="0.1" ><tspan font-style="italic">Il6</tspan><tspan font-size="5.48" dy="2.22" font-style="italic">Prx1</tspan><tspan font-size="4.59" dy="-5.55" dx="1.48">−/−</tspan></text>
<text x="9.9" y="533" font-size="15.4" text-anchor="start" fill="#111" font-weight="bold" font-style="normal" stroke="#111" stroke-width="0.1" >G</text>
<path d="M74.9,617.4C75.44,615.82 77.36,611.53 78.3,607.5C79.24,603.47 80.13,597.35 80.8,592.2C81.47,587.05 81.96,581.52 82.5,575.3C83.04,569.08 83.74,558.44 84.2,553.3C84.66,548.16 84.98,543.74 85.4,543.2C85.82,542.66 86.3,544.76 86.8,549.9C87.3,555.04 87.96,567.72 88.5,575.3C89.04,582.88 89.67,591.62 90.2,597.3C90.73,602.98 91.13,607.58 91.8,610.8C92.47,614.02 93.98,616.34 94.4,617.4Z" stroke="#c0c0c0" fill="#e6e6e8" stroke-width="0.8" />
<path d="M76.5,617.4C77.06,615.82 79.04,611.56 80,607.5C80.96,603.44 81.78,597.68 82.5,592C83.22,586.32 83.94,577.92 84.5,572C85.06,566.08 85.57,558.92 86,555C86.43,551.08 86.8,547.98 87.2,547.5C87.6,547.02 88,547.6 88.5,552C89,556.4 89.74,567.8 90.3,575C90.86,582.2 91.47,591.27 92,597C92.53,602.73 92.93,607.54 93.6,610.8C94.27,614.06 95.78,616.34 96.2,617.4Z" stroke="#a9c4dc" fill="#dbe7f2" stroke-width="0.8" fill-opacity="0.7"/>
<path d="M80,617.4C80.54,615.27 82.46,609.48 83.4,604.1C84.34,598.72 85.15,591.11 85.9,583.8C86.65,576.49 87.41,564.64 88.1,558.4C88.79,552.16 89.61,545.89 90.2,544.8C90.79,543.71 91.27,548.08 91.8,551.6C92.33,555.12 92.96,562.46 93.5,566.8C94.04,571.14 94.51,575.18 95.2,578.7C95.89,582.22 96.98,585.82 97.8,588.8C98.62,591.78 99.5,594.85 100.3,597.3C101.1,599.75 101.98,602.47 102.8,604.1C103.62,605.73 104.71,607.5 105.4,607.5C106.09,607.5 106.56,606.55 107.1,604.1C107.64,601.65 108.26,596.54 108.8,592.2C109.34,587.86 110.02,580.38 110.5,577C110.98,573.62 111.4,571.1 111.8,571.1C112.2,571.1 112.54,574.17 113,577C113.46,579.83 114.03,584.46 114.7,588.8C115.37,593.14 116.38,600.31 117.2,604.1C118.02,607.89 118.98,610.37 119.8,612.5C120.62,614.63 121.9,616.62 122.3,617.4" stroke="#df9f66" fill="none" stroke-width="1.1" />
<path d="M85.9,617.4C86.32,614.73 87.78,606.68 88.5,600.7C89.22,594.72 89.9,584.75 90.4,580C90.9,575.25 91.25,572.52 91.6,571C91.95,569.48 92.33,571.3 92.6,570.5C92.87,569.7 93.09,567.94 93.3,566C93.51,564.06 93.64,559.79 93.9,558.4C94.16,557.01 94.55,556.76 94.9,557.3C95.25,557.84 95.72,560.81 96.1,561.8C96.48,562.79 96.9,561.61 97.3,563.5C97.7,565.39 97.98,569.28 98.6,573.6C99.22,577.92 100.38,585.89 101.2,590.5C102.02,595.11 102.76,598.88 103.7,602.4C104.64,605.92 106.16,610.34 107.1,612.5C108.04,614.66 108.78,615.9 109.6,615.9C110.42,615.9 111.53,615.48 112.2,612.5C112.87,609.52 113.27,604.61 113.8,597.3C114.33,589.99 115,575.2 115.5,566.8C116,558.4 116.48,547.5 116.9,544.8C117.32,542.1 117.64,545.84 118.1,549.9C118.56,553.96 119.13,562.89 119.8,570.2C120.47,577.51 121.36,589.1 122.3,595.6C123.24,602.1 124.61,607.31 125.7,610.8C126.79,614.29 128.56,616.34 129.1,617.4" stroke="#3d72a8" fill="none" stroke-width="1.2" />
<rect x="60.5" y="536.6" width="81" height="81" fill="none" stroke="#161616" stroke-width="1.3"/>
<line x1="56.3" y1="540" x2="60.5" y2="540" stroke="#161616" stroke-width="1" />
<text x="51.6" y="542.95" font-size="8.2" text-anchor="end" fill="#1c1c1c" font-weight="normal" font-style="normal" stroke="#1c1c1c" stroke-width="0.1" >100</text>
<line x1="56.3" y1="555.5" x2="60.5" y2="555.5" stroke="#161616" stroke-width="1" />
<text x="51.6" y="558.45" font-size="8.2" text-anchor="end" fill="#1c1c1c" font-weight="normal" font-style="normal" stroke="#1c1c1c" stroke-width="0.1" >80</text>
<line x1="56.3" y1="571" x2="60.5" y2="571" stroke="#161616" stroke-width="1" />
<text x="51.6" y="573.95" font-size="8.2" text-anchor="end" fill="#1c1c1c" font-weight="normal" font-style="normal" stroke="#1c1c1c" stroke-width="0.1" >60</text>
<line x1="56.3" y1="586.5" x2="60.5" y2="586.5" stroke="#161616" stroke-width="1" />
<text x="51.6" y="589.45" font-size="8.2" text-anchor="end" fill="#1c1c1c" font-weight="normal" font-style="normal" stroke="#1c1c1c" stroke-width="0.1" >40</text>
<line x1="56.3" y1="602" x2="60.5" y2="602" stroke="#161616" stroke-width="1" />
<text x="51.6" y="604.95" font-size="8.2" text-anchor="end" fill="#1c1c1c" font-weight="normal" font-style="normal" stroke="#1c1c1c" stroke-width="0.1" >20</text>
<line x1="56.3" y1="617.6" x2="60.5" y2="617.6" stroke="#161616" stroke-width="1" />
<text x="51.6" y="620.55" font-size="8.2" text-anchor="end" fill="#1c1c1c" font-weight="normal" font-style="normal" stroke="#1c1c1c" stroke-width="0.1" >0</text>
<line x1="58.3" y1="540" x2="60.5" y2="540" stroke="#161616" stroke-width="0.8" />
<line x1="58.3" y1="543.88" x2="60.5" y2="543.88" stroke="#161616" stroke-width="0.8" />
<line x1="58.3" y1="547.75" x2="60.5" y2="547.75" stroke="#161616" stroke-width="0.8" />
<line x1="58.3" y1="551.62" x2="60.5" y2="551.62" stroke="#161616" stroke-width="0.8" />
<line x1="58.3" y1="555.5" x2="60.5" y2="555.5" stroke="#161616" stroke-width="0.8" />
<line x1="58.3" y1="559.38" x2="60.5" y2="559.38" stroke="#161616" stroke-width="0.8" />
<line x1="58.3" y1="563.25" x2="60.5" y2="563.25" stroke="#161616" stroke-width="0.8" />
<line x1="58.3" y1="567.12" x2="60.5" y2="567.12" stroke="#161616" stroke-width="0.8" />
<line x1="58.3" y1="571" x2="60.5" y2="571" stroke="#161616" stroke-width="0.8" />
<line x1="58.3" y1="574.88" x2="60.5" y2="574.88" stroke="#161616" stroke-width="0.8" />
<line x1="58.3" y1="578.75" x2="60.5" y2="578.75" stroke="#161616" stroke-width="0.8" />
<line x1="58.3" y1="582.62" x2="60.5" y2="582.62" stroke="#161616" stroke-width="0.8" />
<line x1="58.3" y1="586.5" x2="60.5" y2="586.5" stroke="#161616" stroke-width="0.8" />
<line x1="58.3" y1="590.38" x2="60.5" y2="590.38" stroke="#161616" stroke-width="0.8" />
<line x1="58.3" y1="594.25" x2="60.5" y2="594.25" stroke="#161616" stroke-width="0.8" />
<line x1="58.3" y1="598.12" x2="60.5" y2="598.12" stroke="#161616" stroke-width="0.8" />
<line x1="58.3" y1="602" x2="60.5" y2="602" stroke="#161616" stroke-width="0.8" />
<line x1="58.3" y1="605.88" x2="60.5" y2="605.88" stroke="#161616" stroke-width="0.8" />
<line x1="58.3" y1="609.75" x2="60.5" y2="609.75" stroke="#161616" stroke-width="0.8" />
<line x1="58.3" y1="613.62" x2="60.5" y2="613.62" stroke="#161616" stroke-width="0.8" />
<line x1="58.3" y1="617.5" x2="60.5" y2="617.5" stroke="#161616" stroke-width="0.8" />
<line x1="62.5" y1="617.6" x2="62.5" y2="619.4" stroke="#161616" stroke-width="0.7" />
<line x1="65.1" y1="617.6" x2="65.1" y2="619.4" stroke="#161616" stroke-width="0.7" />
<line x1="67.7" y1="617.6" x2="67.7" y2="619.4" stroke="#161616" stroke-width="0.7" />
<line x1="70.3" y1="617.6" x2="70.3" y2="619.4" stroke="#161616" stroke-width="0.7" />
<line x1="72.9" y1="617.6" x2="72.9" y2="619.4" stroke="#161616" stroke-width="0.7" />
<line x1="75.5" y1="617.6" x2="75.5" y2="619.4" stroke="#161616" stroke-width="0.7" />
<line x1="78.1" y1="617.6" x2="78.1" y2="619.4" stroke="#161616" stroke-width="0.7" />
<line x1="80.7" y1="617.6" x2="80.7" y2="619.4" stroke="#161616" stroke-width="0.7" />
<line x1="83.3" y1="617.6" x2="83.3" y2="619.4" stroke="#161616" stroke-width="0.7" />
<line x1="85.9" y1="617.6" x2="85.9" y2="619.4" stroke="#161616" stroke-width="0.7" />
<line x1="88.5" y1="617.6" x2="88.5" y2="619.4" stroke="#161616" stroke-width="0.7" />
<line x1="91.1" y1="617.6" x2="91.1" y2="619.4" stroke="#161616" stroke-width="0.7" />
<line x1="93.7" y1="617.6" x2="93.7" y2="619.4" stroke="#161616" stroke-width="0.7" />
<line x1="96.3" y1="617.6" x2="96.3" y2="619.4" stroke="#161616" stroke-width="0.7" />
<line x1="98.9" y1="617.6" x2="98.9" y2="619.4" stroke="#161616" stroke-width="0.7" />
<line x1="101.5" y1="617.6" x2="101.5" y2="619.4" stroke="#161616" stroke-width="0.7" />
<line x1="104.1" y1="617.6" x2="104.1" y2="619.4" stroke="#161616" stroke-width="0.7" />
<line x1="106.7" y1="617.6" x2="106.7" y2="619.4" stroke="#161616" stroke-width="0.7" />
<line x1="109.3" y1="617.6" x2="109.3" y2="619.4" stroke="#161616" stroke-width="0.7" />
<line x1="111.9" y1="617.6" x2="111.9" y2="619.4" stroke="#161616" stroke-width="0.7" />
<line x1="114.5" y1="617.6" x2="114.5" y2="619.4" stroke="#161616" stroke-width="0.7" />
<line x1="117.1" y1="617.6" x2="117.1" y2="619.4" stroke="#161616" stroke-width="0.7" />
<line x1="119.7" y1="617.6" x2="119.7" y2="619.4" stroke="#161616" stroke-width="0.7" />
<line x1="122.3" y1="617.6" x2="122.3" y2="619.4" stroke="#161616" stroke-width="0.7" />
<line x1="124.9" y1="617.6" x2="124.9" y2="619.4" stroke="#161616" stroke-width="0.7" />
<line x1="127.5" y1="617.6" x2="127.5" y2="619.4" stroke="#161616" stroke-width="0.7" />
<line x1="130.1" y1="617.6" x2="130.1" y2="619.4" stroke="#161616" stroke-width="0.7" />
<line x1="132.7" y1="617.6" x2="132.7" y2="619.4" stroke="#161616" stroke-width="0.7" />
<line x1="135.3" y1="617.6" x2="135.3" y2="619.4" stroke="#161616" stroke-width="0.7" />
<line x1="137.9" y1="617.6" x2="137.9" y2="619.4" stroke="#161616" stroke-width="0.7" />
<line x1="140.5" y1="617.6" x2="140.5" y2="619.4" stroke="#161616" stroke-width="0.7" />
<line x1="61.3" y1="617.6" x2="61.3" y2="621.4" stroke="#161616" stroke-width="1" />
<text x="61.8" y="633.2" font-size="8.2" text-anchor="middle" fill="#1c1c1c" font-weight="normal" font-style="normal" stroke="#1c1c1c" stroke-width="0.1" >10<tspan font-size="5.08" dy="-3.44">1</tspan></text>
<line x1="81.4" y1="617.6" x2="81.4" y2="621.4" stroke="#161616" stroke-width="1" />
<text x="81.9" y="633.2" font-size="8.2" text-anchor="middle" fill="#1c1c1c" font-weight="normal" font-style="normal" stroke="#1c1c1c" stroke-width="0.1" >10<tspan font-size="5.08" dy="-3.44">2</tspan></text>
<line x1="101.5" y1="617.6" x2="101.5" y2="621.4" stroke="#161616" stroke-width="1" />
<text x="102" y="633.2" font-size="8.2" text-anchor="middle" fill="#1c1c1c" font-weight="normal" font-style="normal" stroke="#1c1c1c" stroke-width="0.1" >10<tspan font-size="5.08" dy="-3.44">3</tspan></text>
<line x1="121.6" y1="617.6" x2="121.6" y2="621.4" stroke="#161616" stroke-width="1" />
<text x="122.1" y="633.2" font-size="8.2" text-anchor="middle" fill="#1c1c1c" font-weight="normal" font-style="normal" stroke="#1c1c1c" stroke-width="0.1" >10<tspan font-size="5.08" dy="-3.44">4</tspan></text>
<text x="34.3" y="577.5" font-size="10" text-anchor="middle" fill="#1c1c1c" font-weight="bold" font-style="normal" textLength="65.8" lengthAdjust="spacingAndGlyphs" transform="rotate(-90 34.3 577.5)" stroke="#1c1c1c" stroke-width="0.15" >Normalized to mode</text>
<line x1="32.1" y1="638.5" x2="32.1" y2="616.7" stroke="#161616" stroke-width="0.9" />
<polygon points="30.2,617.9 34,617.9 32.1,613.7" fill="#161616" />
<line x1="41.5" y1="640.3" x2="117" y2="640.3" stroke="#161616" stroke-width="0.9" />
<polygon points="115.8,638.4 115.8,642.2 120,640.3" fill="#161616" />
<text x="122.1" y="643.4" font-size="10" text-anchor="start" fill="#1c1c1c" font-weight="bold" font-style="normal" textLength="28.1" lengthAdjust="spacingAndGlyphs" stroke="#1c1c1c" stroke-width="0.15" >MitoSOX</text>
<line x1="57.7" y1="654.6" x2="72.5" y2="654.6" stroke="#7d93b0" stroke-width="1.4" />
<text x="75.2" y="657.5" font-size="7.8" text-anchor="start" fill="#1c1c1c" font-weight="normal" font-style="normal" stroke="#1c1c1c" stroke-width="0.1" ><tspan font-style="italic">Il6</tspan><tspan font-size="4.84" dy="-3.28" font-style="italic">fl/fl</tspan></text>
<line x1="96.7" y1="654.6" x2="112.9" y2="654.6" stroke="#e2c29e" stroke-width="1.4" />
<text x="115.6" y="657.5" font-size="7.8" text-anchor="start" fill="#1c1c1c" font-weight="normal" font-style="normal" stroke="#1c1c1c" stroke-width="0.1" ><tspan font-style="italic">Il6</tspan><tspan font-size="4.84" dy="2.34" font-style="italic">Prx1</tspan><tspan font-size="4.84" dy="-5.85" dx="1.56">−/−</tspan></text>
<rect x="195.4" y="572" width="7.6" height="36.4" fill="#b3c9de" />
<rect x="208.2" y="586.5" width="8" height="21.9" fill="#f2d6bf" />
<line x1="190.8" y1="545" x2="190.8" y2="609" stroke="#161616" stroke-width="1.3" />
<line x1="190.2" y1="608.4" x2="220.8" y2="608.4" stroke="#161616" stroke-width="1.3" />
<line x1="186.8" y1="547.2" x2="190.8" y2="547.2" stroke="#161616" stroke-width="1" />
<text x="182.8" y="550.15" font-size="8.2" text-anchor="end" fill="#1c1c1c" font-weight="normal" font-style="normal" stroke="#1c1c1c" stroke-width="0.1" >1500</text>
<line x1="186.8" y1="567.6" x2="190.8" y2="567.6" stroke="#161616" stroke-width="1" />
<text x="182.8" y="570.55" font-size="8.2" text-anchor="end" fill="#1c1c1c" font-weight="normal" font-style="normal" stroke="#1c1c1c" stroke-width="0.1" >1000</text>
<line x1="186.8" y1="588" x2="190.8" y2="588" stroke="#161616" stroke-width="1" />
<text x="182.8" y="590.95" font-size="8.2" text-anchor="end" fill="#1c1c1c" font-weight="normal" font-style="normal" stroke="#1c1c1c" stroke-width="0.1" >500</text>
<line x1="186.8" y1="608.4" x2="190.8" y2="608.4" stroke="#161616" stroke-width="1" />
<text x="182.8" y="611.35" font-size="8.2" text-anchor="end" fill="#1c1c1c" font-weight="normal" font-style="normal" stroke="#1c1c1c" stroke-width="0.1" >0</text>
<line x1="199.2" y1="563.5" x2="199.2" y2="582.7" stroke="#1d5a97" stroke-width="0.8" />
<line x1="197.95" y1="563.5" x2="200.45" y2="563.5" stroke="#1d5a97" stroke-width="0.8" />
<line x1="197.95" y1="582.7" x2="200.45" y2="582.7" stroke="#1d5a97" stroke-width="0.8" />
<circle cx="196.2" cy="565.8" r="1.2" fill="#1d5a97" />
<circle cx="196.2" cy="568" r="1.2" fill="#1d5a97" />
<circle cx="199.2" cy="564.5" r="1.2" fill="#1d5a97" />
<circle cx="202.7" cy="565.8" r="1.2" fill="#1d5a97" />
<circle cx="199.2" cy="575" r="1.2" fill="#1d5a97" />
<circle cx="199.2" cy="582" r="1.2" fill="#1d5a97" />
<line x1="212.5" y1="584.5" x2="212.5" y2="591" stroke="#cd8440" stroke-width="0.8" />
<line x1="211.25" y1="584.5" x2="213.75" y2="584.5" stroke="#cd8440" stroke-width="0.8" />
<line x1="211.25" y1="591" x2="213.75" y2="591" stroke="#cd8440" stroke-width="0.8" />
<circle cx="210" cy="585.5" r="1" fill="#cd8440" />
<circle cx="215" cy="585.8" r="1" fill="#cd8440" />
<circle cx="210" cy="587.5" r="1" fill="#cd8440" />
<circle cx="212.5" cy="588.6" r="1" fill="#cd8440" />
<circle cx="215" cy="588.8" r="1" fill="#cd8440" />
<circle cx="211" cy="590" r="1" fill="#cd8440" />
<circle cx="214" cy="590.2" r="1" fill="#cd8440" />
<polyline points="199.2,560.4 199.2,557.3 212.8,557.3 212.8,582.7" fill="none" stroke="#161616" stroke-width="1" stroke-linejoin="round" stroke-linejoin="miter"/>
<text x="206" y="557.59" font-size="7.6" text-anchor="middle" fill="#1c1c1c" font-weight="normal" font-style="normal" stroke="#1c1c1c" stroke-width="0.35" >**</text>
<line x1="199.2" y1="608.4" x2="199.2" y2="612" stroke="#161616" stroke-width="1" />
<line x1="212.8" y1="608.4" x2="212.8" y2="612" stroke="#161616" stroke-width="1" />
<text x="157.7" y="575.9" font-size="10.4" text-anchor="middle" fill="#1c1c1c" font-weight="bold" font-style="normal" textLength="42.8" lengthAdjust="spacingAndGlyphs" transform="rotate(-90 157.7 575.9)" stroke="#1c1c1c" stroke-width="0.15" >MitoSOX MFI</text>
<text x="203.3" y="621.1" font-size="7.4" text-anchor="end" fill="#1c1c1c" font-weight="normal" font-style="normal" transform="rotate(-45 203.3 621.1)" stroke="#1c1c1c" stroke-width="0.1" ><tspan font-style="italic">Il6</tspan><tspan font-size="4.59" dy="-3.11" font-style="italic">fl/fl</tspan></text>
<text x="218.8" y="621.5" font-size="7.4" text-anchor="end" fill="#1c1c1c" font-weight="normal" font-style="normal" transform="rotate(-45 218.8 621.5)" stroke="#1c1c1c" stroke-width="0.1" ><tspan font-style="italic">Il6</tspan><tspan font-size="5.48" dy="2.22" font-style="italic">Prx1</tspan><tspan font-size="4.59" dy="-5.55" dx="1.48">−/−</tspan></text>
<text x="277.6" y="532.4" font-size="15.4" text-anchor="start" fill="#111" font-weight="bold" font-style="normal" stroke="#111" stroke-width="0.1" >H</text>
<text x="313.8" y="567.2" font-size="8.4" text-anchor="end" fill="#1c1c1c" font-weight="normal" font-style="normal" stroke="#1c1c1c" stroke-width="0.1" ><tspan font-style="italic">Il6</tspan><tspan font-size="5.21" dy="-3.53" font-style="italic">fl/fl</tspan></text>
<text x="314.5" y="619.2" font-size="8.4" text-anchor="end" fill="#1c1c1c" font-weight="normal" font-style="normal" stroke="#1c1c1c" stroke-width="0.1" ><tspan font-style="italic">Il6</tspan><tspan font-size="5.21" dy="2.52" font-style="italic">Prx1</tspan><tspan font-size="5.21" dy="-6.3" dx="1.68">−/−</tspan></text>
<defs><filter id="dn1" x="0" y="0" width="1" height="1" color-interpolation-filters="sRGB"><feTurbulence type="fractalNoise" baseFrequency="0.8" numOctaves="2" seed="5" result="n"/><feColorMatrix in="n" type="matrix" values="1.0 0 0 0 0.27  1.0 0 0 0 0.27  1.0 0 0 0 0.27  0 0 0 0 1" result="g0"/><feGaussianBlur in="g0" stdDeviation="0.45" result="g"/><feComposite in="g" in2="SourceGraphic" operator="in"/></filter></defs>
<circle cx="342.8" cy="562.8" r="25.2" fill="#000" filter="url(#dn1)"/>
<circle cx="342.8" cy="562.8" r="24.8" fill="none" stroke="#bdbdbd" stroke-width="0.9" opacity="0.8"/>
<defs><filter id="dn2" x="0" y="0" width="1" height="1" color-interpolation-filters="sRGB"><feTurbulence type="fractalNoise" baseFrequency="0.8" numOctaves="2" seed="9" result="n"/><feColorMatrix in="n" type="matrix" values="1.0 0 0 0 0.3  1.0 0 0 0 0.3  1.0 0 0 0 0.3  0 0 0 0 1" result="g0"/><feGaussianBlur in="g0" stdDeviation="0.45" result="g"/><feComposite in="g" in2="SourceGraphic" operator="in"/></filter></defs>
<circle cx="342.8" cy="615.2" r="25.2" fill="#000" filter="url(#dn2)"/>
<defs><radialGradient id="dn2lc" cx="0.56" cy="0.45" r="0.5"><stop offset="0" stop-color="#fff" stop-opacity="0.75"/><stop offset="0.55" stop-color="#fff" stop-opacity="0.45"/><stop offset="1" stop-color="#fff" stop-opacity="0"/></radialGradient></defs>
<circle cx="342.8" cy="615.2" r="25.2" fill="url(#dn2lc)"/>
<circle cx="342.8" cy="615.2" r="24.8" fill="none" stroke="#bdbdbd" stroke-width="0.9" opacity="0.8"/>
<defs><radialGradient id="ph1" cx="0.5" cy="0.5" r="0.7"><stop offset="0" stop-color="#e4ddd3"/><stop offset="1" stop-color="#d5cfc1"/></radialGradient><radialGradient id="ph1c" cx="0.45" cy="0.45" r="0.6"><stop offset="0" stop-color="#3e3222"/><stop offset="0.7" stop-color="#5a4a34"/><stop offset="1" stop-color="#8a7a60"/></radialGradient><filter id="ph1b" x="-0.5" y="-0.5" width="2" height="2"><feGaussianBlur stdDeviation="0.45"/></filter></defs>
<rect x="371" y="539.4" width="63.4" height="47.5" fill="url(#ph1)" />
<g filter="url(#ph1b)"><g opacity="1"><circle cx="387.9" cy="552.2" r="2.09" fill="#7a6a52" opacity="0.8"/><circle cx="387.42" cy="551.79" r="1.42" fill="#3f3122"/><circle cx="388.2" cy="552.51" r="1.35" fill="#3f3122"/><circle cx="387.39" cy="551.63" r="1.53" fill="#3f3122"/><circle cx="387.37" cy="551.29" r="1.39" fill="#3f3122"/></g><g opacity="1"><circle cx="396.9" cy="545.7" r="2.38" fill="#7a6a52" opacity="0.8"/><circle cx="396.55" cy="545.83" r="1.8" fill="#3f3122"/><circle cx="397.2" cy="545.52" r="1.9" fill="#3f3122"/><circle cx="397.65" cy="545.19" r="1.52" fill="#3f3122"/><circle cx="398.03" cy="545.14" r="1.7" fill="#3f3122"/></g><g opacity="0.9"><circle cx="394.9" cy="551.1" r="1.66" fill="#7a6a52" opacity="0.8"/><circle cx="395.2" cy="551.22" r="1.04" fill="#3f3122"/><circle cx="394.87" cy="550.3" r="1.17" fill="#3f3122"/><circle cx="394.81" cy="551.43" r="1.04" fill="#3f3122"/><circle cx="395.13" cy="550.32" r="1.35" fill="#3f3122"/></g><g opacity="1"><circle cx="410.8" cy="544.7" r="2.59" fill="#7a6a52" opacity="0.8"/><circle cx="409.69" cy="544.14" r="2.12" fill="#3f3122"/><circle cx="411.99" cy="543.52" r="1.87" fill="#3f3122"/><circle cx="411.4" cy="544.99" r="2" fill="#3f3122"/><circle cx="409.69" cy="544.72" r="1.93" fill="#3f3122"/></g><g opacity="0.9"><circle cx="413.5" cy="552.2" r="1.73" fill="#7a6a52" opacity="0.8"/><circle cx="413.44" cy="552.26" r="1.25" fill="#3f3122"/><circle cx="412.75" cy="551.39" r="1.2" fill="#3f3122"/><circle cx="413.03" cy="552.14" r="1.1" fill="#3f3122"/><circle cx="413.09" cy="552.81" r="1.09" fill="#3f3122"/></g><g opacity="1"><circle cx="422.5" cy="562.2" r="2.16" fill="#7a6a52" opacity="0.8"/><circle cx="421.7" cy="562.22" r="1.55" fill="#3f3122"/><circle cx="422.6" cy="561.92" r="1.79" fill="#3f3122"/><circle cx="422.89" cy="561.79" r="1.41" fill="#3f3122"/><circle cx="422.22" cy="563.17" r="1.41" fill="#3f3122"/></g><g opacity="1"><circle cx="430.2" cy="570.7" r="2.16" fill="#7a6a52" opacity="0.8"/><circle cx="429.71" cy="570.77" r="1.73" fill="#3f3122"/><circle cx="430.8" cy="571.05" r="1.53" fill="#3f3122"/><circle cx="430.18" cy="570.51" r="1.78" fill="#3f3122"/><circle cx="429.68" cy="570.73" r="1.6" fill="#3f3122"/></g><g opacity="0.85"><circle cx="405" cy="569" r="2.23" fill="#7a6a52" opacity="0.8"/><circle cx="404.83" cy="569.11" r="1.64" fill="#3f3122"/><circle cx="405.96" cy="568.44" r="1.53" fill="#3f3122"/><circle cx="404.52" cy="568.35" r="1.43" fill="#3f3122"/><circle cx="405.74" cy="569.54" r="1.52" fill="#3f3122"/></g><g opacity="0.6"><circle cx="420.8" cy="573" r="1.58" fill="#7a6a52" opacity="0.8"/><circle cx="420.23" cy="572.48" r="1.1" fill="#3f3122"/><circle cx="420.32" cy="572.89" r="1.22" fill="#3f3122"/><circle cx="420.44" cy="573.22" r="1.21" fill="#3f3122"/><circle cx="420.21" cy="572.85" r="1" fill="#3f3122"/></g><g opacity="1"><circle cx="413.8" cy="577.7" r="2.16" fill="#7a6a52" opacity="0.8"/><circle cx="413.47" cy="577.32" r="1.52" fill="#3f3122"/><circle cx="412.87" cy="578.67" r="1.59" fill="#3f3122"/><circle cx="413.09" cy="577.26" r="1.37" fill="#3f3122"/><circle cx="412.96" cy="577.69" r="1.5" fill="#3f3122"/></g><g opacity="1"><circle cx="394.9" cy="578.4" r="2.16" fill="#7a6a52" opacity="0.8"/><circle cx="394.62" cy="578.57" r="1.47" fill="#3f3122"/><circle cx="395.04" cy="577.78" r="1.68" fill="#3f3122"/><circle cx="395.12" cy="578.38" r="1.45" fill="#3f3122"/><circle cx="395.56" cy="579.2" r="1.74" fill="#3f3122"/></g><g opacity="0.45"><circle cx="385.5" cy="571.7" r="1.3" fill="#7a6a52" opacity="0.8"/><circle cx="385.08" cy="571.34" r="0.89" fill="#3f3122"/><circle cx="385.76" cy="571.11" r="0.81" fill="#3f3122"/><circle cx="384.96" cy="572.02" r="0.96" fill="#3f3122"/><circle cx="384.95" cy="571.11" r="1.06" fill="#3f3122"/></g><g opacity="1"><circle cx="377.2" cy="582" r="2.16" fill="#7a6a52" opacity="0.8"/><circle cx="376.67" cy="581.02" r="1.38" fill="#3f3122"/><circle cx="377.95" cy="581.19" r="1.59" fill="#3f3122"/><circle cx="378.08" cy="581.03" r="1.55" fill="#3f3122"/><circle cx="378.19" cy="582.4" r="1.56" fill="#3f3122"/></g><g opacity="0.9"><circle cx="371.8" cy="567.2" r="0.86" fill="#7a6a52" opacity="0.8"/><circle cx="371.77" cy="567.56" r="0.54" fill="#3f3122"/><circle cx="372.13" cy="567.52" r="0.67" fill="#3f3122"/><circle cx="371.44" cy="567.41" r="0.61" fill="#3f3122"/><circle cx="371.45" cy="567.59" r="0.6" fill="#3f3122"/></g></g>
<defs><radialGradient id="ph2" cx="0.5" cy="0.5" r="0.7"><stop offset="0" stop-color="#dfd8da"/><stop offset="1" stop-color="#d3cbcf"/></radialGradient><radialGradient id="ph2c" cx="0.45" cy="0.45" r="0.6"><stop offset="0" stop-color="#3e3222"/><stop offset="0.7" stop-color="#5a4a34"/><stop offset="1" stop-color="#8a7a60"/></radialGradient><filter id="ph2b" x="-0.5" y="-0.5" width="2" height="2"><feGaussianBlur stdDeviation="0.45"/></filter></defs>
<rect x="371" y="591.8" width="63.6" height="48" fill="url(#ph2)" />
<g filter="url(#ph2b)"><g opacity="0.9"><circle cx="398.3" cy="597.7" r="1.87" fill="#7a6a52" opacity="0.8"/><circle cx="398.88" cy="597.95" r="1.35" fill="#3f3122"/><circle cx="397.54" cy="598.08" r="1.28" fill="#3f3122"/><circle cx="398.59" cy="597.05" r="1.48" fill="#3f3122"/><circle cx="397.9" cy="597.76" r="1.27" fill="#3f3122"/></g><g opacity="0.9"><circle cx="416.7" cy="604.4" r="1.8" fill="#7a6a52" opacity="0.8"/><circle cx="417.23" cy="604.53" r="1.31" fill="#3f3122"/><circle cx="417.48" cy="603.86" r="1.23" fill="#3f3122"/><circle cx="416.35" cy="603.78" r="1.24" fill="#3f3122"/><circle cx="416.39" cy="603.67" r="1.25" fill="#3f3122"/></g><g opacity="0.8"><circle cx="387.5" cy="607.9" r="1.66" fill="#7a6a52" opacity="0.8"/><circle cx="387.22" cy="608.69" r="1.33" fill="#3f3122"/><circle cx="387.09" cy="608.35" r="1.2" fill="#3f3122"/><circle cx="386.79" cy="608.38" r="1.15" fill="#3f3122"/><circle cx="388.2" cy="608.59" r="1.25" fill="#3f3122"/></g><g opacity="0.95"><circle cx="396.5" cy="615.6" r="1.8" fill="#7a6a52" opacity="0.8"/><circle cx="396.49" cy="616.22" r="1.38" fill="#3f3122"/><circle cx="396.53" cy="615.5" r="1.16" fill="#3f3122"/><circle cx="396.61" cy="615.48" r="1.45" fill="#3f3122"/><circle cx="395.7" cy="615.26" r="1.46" fill="#3f3122"/></g><g opacity="0.95"><circle cx="386.2" cy="624.1" r="2.09" fill="#7a6a52" opacity="0.8"/><circle cx="386.55" cy="624.07" r="1.45" fill="#3f3122"/><circle cx="385.95" cy="624.57" r="1.67" fill="#3f3122"/><circle cx="386.4" cy="623.99" r="1.43" fill="#3f3122"/><circle cx="385.94" cy="624.54" r="1.65" fill="#3f3122"/></g><g opacity="0.95"><circle cx="414" cy="629.7" r="2.23" fill="#7a6a52" opacity="0.8"/><circle cx="414.54" cy="628.97" r="1.57" fill="#3f3122"/><circle cx="413.77" cy="630.56" r="1.8" fill="#3f3122"/><circle cx="415.08" cy="630.15" r="1.82" fill="#3f3122"/><circle cx="414.62" cy="629.1" r="1.61" fill="#3f3122"/></g></g>
<rect x="431.2" y="637.4" width="2.4" height="1.3" fill="#111" />
<rect x="483.1" y="559.9" width="8.7" height="51.5" fill="#b3c9de" />
<rect x="497.2" y="584.1" width="8.8" height="27.3" fill="#f2d6bf" />
<line x1="479.4" y1="543.5" x2="479.4" y2="612" stroke="#161616" stroke-width="1.3" />
<line x1="478.8" y1="611.4" x2="510" y2="611.4" stroke="#161616" stroke-width="1.3" />
<line x1="475.4" y1="546.8" x2="479.4" y2="546.8" stroke="#161616" stroke-width="1" />
<text x="471.7" y="549.93" font-size="8.7" text-anchor="end" fill="#1c1c1c" font-weight="normal" font-style="normal" stroke="#1c1c1c" stroke-width="0.1" >800</text>
<line x1="475.4" y1="562.95" x2="479.4" y2="562.95" stroke="#161616" stroke-width="1" />
<text x="471.7" y="566.08" font-size="8.7" text-anchor="end" fill="#1c1c1c" font-weight="normal" font-style="normal" stroke="#1c1c1c" stroke-width="0.1" >600</text>
<line x1="475.4" y1="579.1" x2="479.4" y2="579.1" stroke="#161616" stroke-width="1" />
<text x="471.7" y="582.23" font-size="8.7" text-anchor="end" fill="#1c1c1c" font-weight="normal" font-style="normal" stroke="#1c1c1c" stroke-width="0.1" >400</text>
<line x1="475.4" y1="595.25" x2="479.4" y2="595.25" stroke="#161616" stroke-width="1" />
<text x="471.7" y="598.38" font-size="8.7" text-anchor="end" fill="#1c1c1c" font-weight="normal" font-style="normal" stroke="#1c1c1c" stroke-width="0.1" >200</text>
<line x1="475.4" y1="611.4" x2="479.4" y2="611.4" stroke="#161616" stroke-width="1" />
<text x="471.7" y="614.53" font-size="8.7" text-anchor="end" fill="#1c1c1c" font-weight="normal" font-style="normal" stroke="#1c1c1c" stroke-width="0.1" >0</text>
<line x1="487.4" y1="557.2" x2="487.4" y2="561.9" stroke="#1d5a97" stroke-width="0.9" />
<line x1="485.8" y1="557.2" x2="489" y2="557.2" stroke="#1d5a97" stroke-width="0.9" />
<line x1="485.8" y1="561.9" x2="489" y2="561.9" stroke="#1d5a97" stroke-width="0.9" />
<circle cx="487.4" cy="560.4" r="0.9" fill="#1d5a97" />
<line x1="501.3" y1="580.8" x2="501.3" y2="586.1" stroke="#cd8440" stroke-width="0.9" />
<line x1="499.7" y1="580.8" x2="502.9" y2="580.8" stroke="#cd8440" stroke-width="0.9" />
<line x1="499.7" y1="586.1" x2="502.9" y2="586.1" stroke="#cd8440" stroke-width="0.9" />
<circle cx="501.3" cy="583.6" r="0.9" fill="#cd8440" />
<polyline points="487.4,553.8 487.4,550.2 501.6,550.2 501.6,578" fill="none" stroke="#161616" stroke-width="1" stroke-linejoin="round" stroke-linejoin="miter"/>
<text x="494.5" y="550.49" font-size="7.6" text-anchor="middle" fill="#1c1c1c" font-weight="normal" font-style="normal" stroke="#1c1c1c" stroke-width="0.35" >***</text>
<line x1="487.4" y1="611.4" x2="487.4" y2="615" stroke="#161616" stroke-width="1" />
<line x1="501.2" y1="611.4" x2="501.2" y2="615" stroke="#161616" stroke-width="1" />
<text x="453.1" y="576.6" font-size="10" text-anchor="middle" fill="#1c1c1c" font-weight="bold" font-style="normal" textLength="59.4" lengthAdjust="spacingAndGlyphs" transform="rotate(-90 453.1 576.6)" stroke="#1c1c1c" stroke-width="0.15" >Number of colonies</text>
<text x="491.5" y="624.1" font-size="7.4" text-anchor="end" fill="#1c1c1c" font-weight="normal" font-style="normal" transform="rotate(-45 491.5 624.1)" stroke="#1c1c1c" stroke-width="0.1" ><tspan font-style="italic">Il6</tspan><tspan font-size="4.59" dy="-3.11" font-style="italic">fl/fl</tspan></text>
<text x="507.2" y="624.5" font-size="7.4" text-anchor="end" fill="#1c1c1c" font-weight="normal" font-style="normal" transform="rotate(-45 507.2 624.5)" stroke="#1c1c1c" stroke-width="0.1" ><tspan font-style="italic">Il6</tspan><tspan font-size="5.48" dy="2.22" font-style="italic">Prx1</tspan><tspan font-size="4.59" dy="-5.55" dx="1.48">−/−</tspan></text>
<rect x="11.2" y="685.1" width="2.8" height="10.4" fill="#111"/>
<rect x="69.6" y="725.2" width="9.2" height="50.6" fill="#b3c9de" />
<rect x="84.6" y="760.8" width="8.7" height="15" fill="#f2d6bf" />
<line x1="64" y1="697" x2="64" y2="776.4" stroke="#161616" stroke-width="1.3" />
<line x1="63.4" y1="775.8" x2="98.2" y2="775.8" stroke="#161616" stroke-width="1.3" />
<line x1="60" y1="699.6" x2="64" y2="699.6" stroke="#161616" stroke-width="1" />
<text x="56.9" y="702.55" font-size="8.2" text-anchor="end" fill="#1c1c1c" font-weight="normal" font-style="normal" stroke="#1c1c1c" stroke-width="0.1" >80</text>
<line x1="60" y1="718.65" x2="64" y2="718.65" stroke="#161616" stroke-width="1" />
<text x="56.9" y="721.6" font-size="8.2" text-anchor="end" fill="#1c1c1c" font-weight="normal" font-style="normal" stroke="#1c1c1c" stroke-width="0.1" >60</text>
<line x1="60" y1="737.7" x2="64" y2="737.7" stroke="#161616" stroke-width="1" />
<text x="56.9" y="740.65" font-size="8.2" text-anchor="end" fill="#1c1c1c" font-weight="normal" font-style="normal" stroke="#1c1c1c" stroke-width="0.1" >40</text>
<line x1="60" y1="756.75" x2="64" y2="756.75" stroke="#161616" stroke-width="1" />
<text x="56.9" y="759.7" font-size="8.2" text-anchor="end" fill="#1c1c1c" font-weight="normal" font-style="normal" stroke="#1c1c1c" stroke-width="0.1" >20</text>
<line x1="60" y1="775.8" x2="64" y2="775.8" stroke="#161616" stroke-width="1" />
<text x="56.9" y="778.75" font-size="8.2" text-anchor="end" fill="#1c1c1c" font-weight="normal" font-style="normal" stroke="#1c1c1c" stroke-width="0.1" >0</text>
<line x1="74.2" y1="709.8" x2="74.2" y2="737.7" stroke="#1d5a97" stroke-width="1" />
<line x1="71.95" y1="709.8" x2="76.45" y2="709.8" stroke="#1d5a97" stroke-width="1" />
<line x1="71.95" y1="737.7" x2="76.45" y2="737.7" stroke="#1d5a97" stroke-width="1" />
<circle cx="74.2" cy="706" r="0.8" fill="#4a7fb5" />
<circle cx="74.2" cy="712" r="0.8" fill="#4a7fb5" />
<circle cx="74.2" cy="718" r="0.8" fill="#4a7fb5" />
<circle cx="74.2" cy="725" r="0.8" fill="#4a7fb5" />
<circle cx="74.2" cy="731" r="0.8" fill="#4a7fb5" />
<line x1="88.9" y1="744.4" x2="88.9" y2="772.3" stroke="#cd8440" stroke-width="0.9" />
<line x1="86.65" y1="744.4" x2="91.15" y2="744.4" stroke="#cd8440" stroke-width="0.9" />
<line x1="86.65" y1="772.3" x2="91.15" y2="772.3" stroke="#cd8440" stroke-width="0.9" />
<circle cx="88.9" cy="742" r="0.8" fill="#cd8440" />
<circle cx="88.9" cy="748" r="0.8" fill="#cd8440" />
<circle cx="88.9" cy="760" r="0.8" fill="#cd8440" />
<circle cx="88.9" cy="766" r="0.8" fill="#cd8440" />
<circle cx="88.9" cy="771" r="0.8" fill="#cd8440" />
<polyline points="74,704 74,699.2 88.8,699.2 88.8,742.5" fill="none" stroke="#161616" stroke-width="1" stroke-linejoin="round" stroke-linejoin="miter"/>
<text x="81.4" y="699.49" font-size="7.6" text-anchor="middle" fill="#1c1c1c" font-weight="normal" font-style="normal" stroke="#1c1c1c" stroke-width="0.35" >**</text>
<line x1="74.2" y1="775.8" x2="74.2" y2="779.7" stroke="#161616" stroke-width="1" />
<line x1="88.9" y1="775.8" x2="88.9" y2="779.7" stroke="#161616" stroke-width="1" />
<text x="41.5" y="736.1" font-size="10" text-anchor="middle" fill="#1c1c1c" font-weight="bold" font-style="normal" textLength="73.6" lengthAdjust="spacingAndGlyphs" transform="rotate(-90 41.5 736.1)" stroke="#1c1c1c" stroke-width="0.15" >YFP<tspan font-size="6.2" dy="-4">+</tspan><tspan dy="4"> c-KIT</tspan><tspan font-size="6.2" dy="-4">+</tspan><tspan dy="4"> cells (%)</tspan></text>
<text x="78.3" y="788.8" font-size="7.4" text-anchor="end" fill="#1c1c1c" font-weight="normal" font-style="normal" transform="rotate(-45 78.3 788.8)" stroke="#1c1c1c" stroke-width="0.1" ><tspan font-style="italic">Il6</tspan><tspan font-size="4.59" dy="-3.11" font-style="italic">fl/fl</tspan></text>
<text x="94.9" y="789.2" font-size="7.4" text-anchor="end" fill="#1c1c1c" font-weight="normal" font-style="normal" transform="rotate(-45 94.9 789.2)" stroke="#1c1c1c" stroke-width="0.1" ><tspan font-style="italic">Il6</tspan><tspan font-size="5.48" dy="2.22" font-style="italic">Prx1</tspan><tspan font-size="4.59" dy="-5.55" dx="1.48">−/−</tspan></text>
<text x="130.6" y="695" font-size="15.4" text-anchor="start" fill="#111" font-weight="bold" font-style="normal" stroke="#111" stroke-width="0.1" >J</text>
<text x="237.3" y="700.8" font-size="10.25" text-anchor="middle" fill="#1c1c1c" font-weight="normal" font-style="normal" stroke="#1c1c1c" stroke-width="0.1" >Secondary transplant</text>
<polyline points="182,712.25 230.42,712.25 230.42,725.2 235.8,725.2 235.8,738.15 238.49,738.15 238.49,751.1 241.18,751.1 241.18,777" fill="none" stroke="#5a86b5" stroke-width="1.1" stroke-linejoin="round" stroke-linejoin="miter"/>
<polyline points="229.07,712.25 257.32,712.25 257.32,725.2 262.7,725.2 262.7,751.1 268.08,751.1 268.08,777" fill="none" stroke="#d9a06a" stroke-width="1.1" stroke-linejoin="round" stroke-linejoin="miter"/>
<line x1="182" y1="706" x2="182" y2="777.6" stroke="#161616" stroke-width="1.3" />
<line x1="181.4" y1="777" x2="292.5" y2="777" stroke="#161616" stroke-width="1.3" />
<line x1="178" y1="712.3" x2="182" y2="712.3" stroke="#161616" stroke-width="1" />
<text x="175.2" y="715.43" font-size="8.7" text-anchor="end" fill="#1c1c1c" font-weight="normal" font-style="normal" stroke="#1c1c1c" stroke-width="0.1" >100</text>
<line x1="178" y1="725.25" x2="182" y2="725.25" stroke="#161616" stroke-width="1" />
<text x="175.2" y="728.38" font-size="8.7" text-anchor="end" fill="#1c1c1c" font-weight="normal" font-style="normal" stroke="#1c1c1c" stroke-width="0.1" >80</text>
<line x1="178" y1="738.2" x2="182" y2="738.2" stroke="#161616" stroke-width="1" />
<text x="175.2" y="741.33" font-size="8.7" text-anchor="end" fill="#1c1c1c" font-weight="normal" font-style="normal" stroke="#1c1c1c" stroke-width="0.1" >60</text>
<line x1="178" y1="751.1" x2="182" y2="751.1" stroke="#161616" stroke-width="1" />
<text x="175.2" y="754.23" font-size="8.7" text-anchor="end" fill="#1c1c1c" font-weight="normal" font-style="normal" stroke="#1c1c1c" stroke-width="0.1" >40</text>
<line x1="178" y1="764.05" x2="182" y2="764.05" stroke="#161616" stroke-width="1" />
<text x="175.2" y="767.18" font-size="8.7" text-anchor="end" fill="#1c1c1c" font-weight="normal" font-style="normal" stroke="#1c1c1c" stroke-width="0.1" >20</text>
<line x1="178" y1="777" x2="182" y2="777" stroke="#161616" stroke-width="1" />
<text x="175.2" y="780.13" font-size="8.7" text-anchor="end" fill="#1c1c1c" font-weight="normal" font-style="normal" stroke="#1c1c1c" stroke-width="0.1" >0</text>
<line x1="182" y1="777" x2="182" y2="780.8" stroke="#161616" stroke-width="1" />
<text x="182" y="791.6" font-size="8.2" text-anchor="middle" fill="#1c1c1c" font-weight="normal" font-style="normal" stroke="#1c1c1c" stroke-width="0.1" >0</text>
<line x1="208.9" y1="777" x2="208.9" y2="780.8" stroke="#161616" stroke-width="1" />
<text x="208.9" y="791.6" font-size="8.2" text-anchor="middle" fill="#1c1c1c" font-weight="normal" font-style="normal" stroke="#1c1c1c" stroke-width="0.1" >10</text>
<line x1="235.8" y1="777" x2="235.8" y2="780.8" stroke="#161616" stroke-width="1" />
<text x="235.8" y="791.6" font-size="8.2" text-anchor="middle" fill="#1c1c1c" font-weight="normal" font-style="normal" stroke="#1c1c1c" stroke-width="0.1" >20</text>
<line x1="262.7" y1="777" x2="262.7" y2="780.8" stroke="#161616" stroke-width="1" />
<text x="262.7" y="791.6" font-size="8.2" text-anchor="middle" fill="#1c1c1c" font-weight="normal" font-style="normal" stroke="#1c1c1c" stroke-width="0.1" >30</text>
<line x1="289.6" y1="777" x2="289.6" y2="780.8" stroke="#161616" stroke-width="1" />
<text x="289.6" y="791.6" font-size="8.2" text-anchor="middle" fill="#1c1c1c" font-weight="normal" font-style="normal" stroke="#1c1c1c" stroke-width="0.1" >40</text>
<text x="237.6" y="806.7" font-size="10.6" text-anchor="middle" fill="#1c1c1c" font-weight="bold" font-style="normal" textLength="15.1" lengthAdjust="spacingAndGlyphs" stroke="#1c1c1c" stroke-width="0.15" >Days</text>
<text x="152.6" y="741.5" font-size="10" text-anchor="middle" fill="#1c1c1c" font-weight="bold" font-style="normal" textLength="70.5" lengthAdjust="spacingAndGlyphs" transform="rotate(-90 152.6 741.5)" stroke="#1c1c1c" stroke-width="0.15" >Probability of survival</text>
<line x1="278.5" y1="708.2" x2="292.7" y2="708.2" stroke="#5a86b5" stroke-width="1.1" />
<line x1="285.6" y1="706.7" x2="285.6" y2="709.7" stroke="#5a86b5" stroke-width="0.8" />
<line x1="278.5" y1="717.9" x2="292.7" y2="717.9" stroke="#d9a06a" stroke-width="1.1" />
<line x1="285.6" y1="716.4" x2="285.6" y2="719.4" stroke="#d9a06a" stroke-width="0.8" />
<text x="297" y="711.2" font-size="8" text-anchor="start" fill="#1c1c1c" font-weight="normal" font-style="normal" stroke="#1c1c1c" stroke-width="0.1" ><tspan font-style="italic">Il6</tspan><tspan font-size="4.96" dy="-3.36" font-style="italic">fl/fl</tspan></text>
<text x="297" y="720.4" font-size="8" text-anchor="start" fill="#1c1c1c" font-weight="normal" font-style="normal" stroke="#1c1c1c" stroke-width="0.1" ><tspan font-style="italic">Il6</tspan><tspan font-size="4.96" dy="2.4" font-style="italic">Prx1</tspan><tspan font-size="4.96" dy="-6" dx="1.6">−/−</tspan></text>
<polyline points="318.7,707.3 338.5,707.3 338.5,717.5 330.2,717.5" fill="none" stroke="#161616" stroke-width="1.3" stroke-linejoin="round" stroke-linejoin="miter"/>
<text x="344.3" y="716.4" font-size="8.6" text-anchor="middle" fill="#1c1c1c" font-weight="normal" font-style="normal" stroke="#1c1c1c" stroke-width="0.4" >**</text>
<rect x="0.6" y="0.6" width="518.8" height="818.8" fill="none" stroke="#333" stroke-width="1.4"/>
</svg>
</body></html>
